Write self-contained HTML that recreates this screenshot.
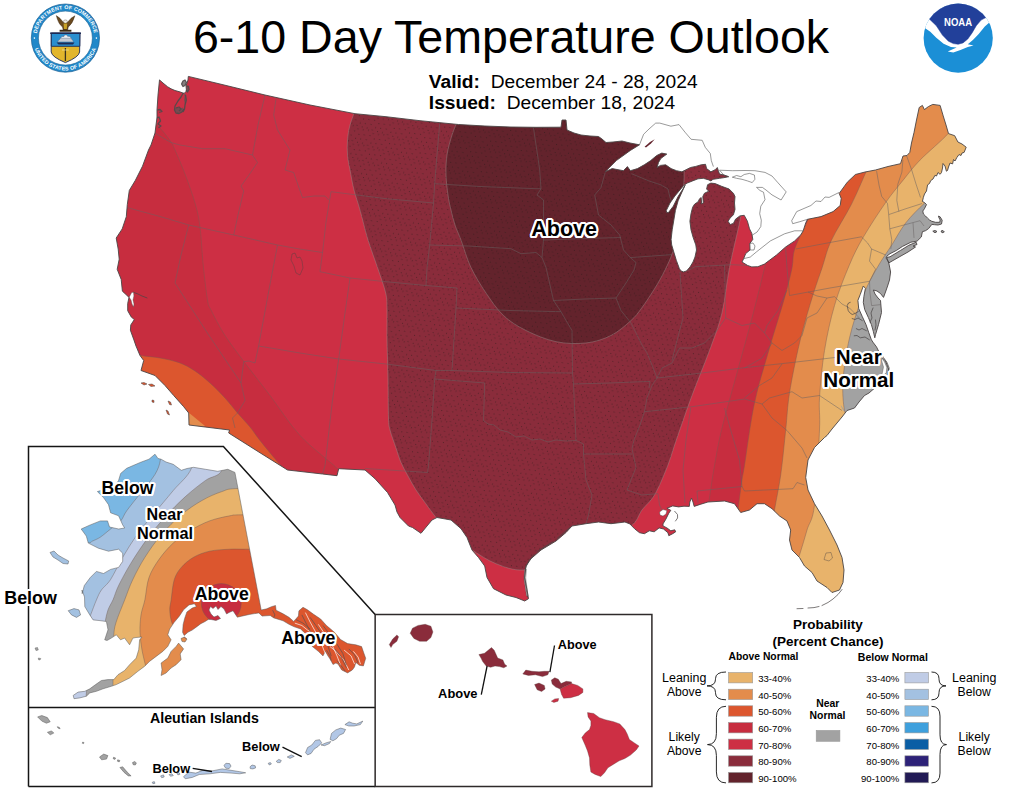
<!DOCTYPE html>
<html><head><meta charset="utf-8"><title>6-10 Day Temperature Outlook</title>
<style>
html,body{margin:0;padding:0;background:#fff;}
body{width:1024px;height:791px;position:relative;overflow:hidden;font-family:"Liberation Sans",sans-serif;color:#000;}
.t{position:absolute;white-space:nowrap;line-height:1;}
.b{font-weight:bold;}
.halo{font-weight:bold;text-shadow:-1.5px -1.5px 0 #fff,1.5px -1.5px 0 #fff,-1.5px 1.5px 0 #fff,1.5px 1.5px 0 #fff,0 -2px 0 #fff,0 2px 0 #fff,-2px 0 0 #fff,2px 0 0 #fff,-1px -2px 0 #fff,1px -2px 0 #fff,-1px 2px 0 #fff,1px 2px 0 #fff,-2px -1px 0 #fff,2px -1px 0 #fff,-2px 1px 0 #fff,2px 1px 0 #fff;}
</style></head>
<body>
<svg width="1024" height="791" viewBox="0 0 1024 791" style="position:absolute;left:0;top:0">
<defs>
<clipPath id="cus"><path d="M159.5,79.9 L163.0,83.0 L167.5,86.7 L171.0,88.8 L175.0,90.5 L180.3,92.0 L184.0,93.5 L186.5,91.0 L186.0,86.0 L188.0,80.0 L188.3,76.4 L220.0,84.0 L265.0,95.0 L310.0,105.0 L355.0,113.7 L386.0,116.7 L420.0,120.7 L458.5,124.5 L485.0,126.0 L511.0,127.0 L536.0,127.3 L561.0,127.2 L562.0,120.0 L566.0,120.0 L567.0,130.0 L574.0,133.0 L581.0,135.0 L590.0,136.0 L598.5,136.5 L602.0,139.0 L606.0,142.5 L613.0,142.0 L622.0,141.0 L630.0,143.0 L639.5,144.8 L630.4,150.4 L616.3,160.6 L605.2,171.7 L612.2,168.6 L623.4,170.7 L627.4,166.6 L630.4,170.7 L637.5,168.6 L644.6,164.6 L650.7,160.6 L656.7,155.5 L661.8,153.1 L666.8,154.1 L660.8,158.5 L658.5,162.5 L657.1,167.5 L660.4,165.4 L665.7,164.8 L671.1,168.6 L676.5,170.7 L681.9,171.8 L685.1,170.2 L690.5,167.5 L695.8,166.4 L701.2,164.8 L705.5,164.3 L706.6,168.6 L710.9,171.8 L715.2,169.7 L717.3,167.5 L718.4,170.7 L719.5,174.0 L723.8,175.0 L728.6,176.7 L723.8,177.7 L719.5,178.3 L715.0,179.0 L713.0,179.3 L710.9,180.9 L708.7,179.9 L703.3,178.3 L698.0,178.8 L692.6,180.9 L687.2,183.1 L684.0,185.2 L679.9,190.0 L674.9,196.0 L670.0,203.0 L666.3,210.5 L666.8,212.6 L668.4,212.6 L673.3,206.2 L678.1,196.5 L682.9,189.0 L685.1,185.2 L681.9,192.2 L678.1,200.8 L675.4,210.5 L673.8,220.2 L672.2,229.8 L671.1,239.5 L671.7,244.9 L673.2,250.0 L676.3,260.3 L679.3,268.4 L680.8,270.8 L683.4,271.9 L686.5,271.0 L690.0,267.0 L693.0,262.0 L695.0,257.0 L696.5,250.0 L695.8,244.9 L693.1,237.3 L691.0,229.8 L689.9,221.2 L691.0,213.7 L692.6,207.3 L694.7,204.0 L698.0,201.9 L699.6,198.7 L701.2,197.6 L701.7,204.0 L703.3,203.0 L702.8,196.5 L704.4,193.3 L708.7,191.2 L706.6,189.0 L707.6,184.7 L710.9,183.1 L715.2,183.6 L721.6,186.3 L729.1,189.0 L733.4,193.3 L735.0,196.5 L734.5,203.0 L735.0,209.4 L733.4,214.8 L730.2,218.0 L728.0,221.2 L730.2,224.5 L733.4,223.4 L735.6,219.1 L739.9,215.9 L744.2,215.3 L747.4,221.2 L749.5,228.8 L751.8,233.4 L752.8,239.4 L749.8,243.5 L750.0,250.0 L745.7,253.6 L743.7,258.6 L742.0,262.0 L747.7,265.5 L751.8,266.9 L757.8,266.7 L764.4,264.1 L776.5,255.0 L785.6,247.0 L794.7,240.9 L800.8,234.8 L803.2,230.8 L805.8,222.7 L807.5,219.3 L821.0,216.6 L833.1,211.6 L840.2,205.5 L841.2,198.4 L839.2,193.4 L847.3,182.2 L855.4,174.5 L865.0,172.0 L875.5,170.0 L888.0,166.5 L900.5,163.7 L903.0,156.0 L907.0,155.5 L909.8,152.4 L911.5,143.0 L914.0,132.6 L916.5,120.0 L919.2,107.5 L922.4,105.4 L924.4,109.6 L928.5,106.5 L932.8,104.4 L940.1,105.4 L943.2,115.9 L946.0,125.0 L948.5,133.6 L954.7,135.7 L957.9,142.0 L962.0,144.0 L966.2,147.2 L964.1,152.4 L962.0,153.0 L961.0,155.5 L959.0,154.5 L956.8,157.6 L955.0,161.0 L953.5,159.5 L952.6,163.9 L950.0,163.0 L948.5,167.0 L947.5,170.5 L946.4,171.2 L945.0,166.0 L943.0,163.5 L942.5,168.0 L941.5,172.5 L940.1,174.3 L938.0,172.5 L936.5,176.0 L934.9,175.4 L933.0,179.0 L930.7,180.6 L929.5,183.5 L927.6,184.8 L927.0,188.0 L926.5,191.0 L924.5,194.0 L923.4,197.3 L922.4,201.5 L924.5,202.5 L926.5,204.6 L924.4,208.8 L922.8,211.0 L923.4,214.0 L925.5,216.0 L927.6,218.2 L929.5,220.0 L931.8,221.3 L935.5,222.3 L939.7,222.3 L940.2,220.0 L939.1,218.0 L938.4,216.1 L940.1,216.8 L942.2,220.3 L941.5,224.0 L938.0,225.0 L934.5,224.7 L931.8,224.4 L928.6,228.6 L925.5,230.7 L922.4,231.7 L921.3,237.0 L917.1,241.1 L910.9,242.2 L902.5,246.4 L896.3,250.5 L890.0,253.7 L887.0,256.0 L886.0,258.0 L888.6,262.0 L890.6,272.0 L889.5,280.0 L887.6,286.0 L885.5,292.0 L883.5,297.4 L880.5,293.5 L877.0,291.0 L873.4,290.0 L875.0,294.0 L878.0,298.0 L880.5,300.4 L881.5,312.5 L878.5,324.6 L875.5,334.7 L874.8,337.8 L873.4,331.7 L871.4,324.6 L868.4,317.6 L864.7,309.5 L863.3,302.4 L863.9,296.4 L865.4,288.3 L863.3,286.0 L860.3,294.3 L857.9,300.4 L858.7,308.5 L862.3,316.6 L866.0,324.6 L868.8,332.7 L871.4,339.8 L873.4,342.8 L876.5,346.9 L881.5,357.0 L885.6,361.0 L888.6,369.0 L887.6,375.2 L880.5,381.2 L875.5,387.3 L869.0,393.0 L864.5,395.5 L859.0,402.0 L854.5,408.0 L847.0,410.5 L842.0,417.0 L837.0,423.0 L832.0,429.0 L827.0,435.5 L824.5,437.5 L814.5,447.5 L808.0,460.0 L805.7,477.5 L808.0,490.0 L814.5,503.7 L822.0,516.0 L829.5,530.0 L837.0,545.0 L842.0,557.5 L844.0,570.0 L843.0,582.5 L839.5,590.0 L832.0,592.5 L827.0,587.5 L817.0,581.0 L812.0,572.5 L804.5,566.0 L799.5,557.5 L792.0,550.0 L789.5,540.0 L790.7,530.0 L787.0,521.0 L779.5,516.0 L772.0,508.7 L764.5,503.7 L757.0,503.7 L749.5,510.0 L740.7,512.5 L734.5,503.7 L724.5,501.0 L707.9,502.0 L700.1,504.4 L694.2,506.4 L693.0,502.0 L691.5,498.1 L689.8,502.0 L689.3,506.4 L684.0,506.2 L678.6,506.9 L672.7,505.9 L666.9,508.3 L670.8,510.3 L668.8,513.2 L665.9,519.1 L663.0,523.9 L663.0,525.9 L666.9,527.9 L670.8,530.8 L674.7,529.8 L675.7,531.8 L672.7,533.7 L668.8,535.7 L667.9,532.7 L663.5,529.0 L659.1,527.9 L654.2,531.8 L649.3,530.8 L644.4,533.7 L639.5,532.7 L634.6,528.8 L629.8,523.9 L624.9,522.0 L621.0,522.5 L611.0,523.7 L598.5,522.0 L586.0,523.7 L572.0,526.0 L566.0,532.5 L556.0,541.0 L541.0,550.0 L531.0,558.7 L526.0,566.0 L524.7,577.5 L527.0,590.0 L528.5,598.7 L524.7,601.0 L516.0,597.5 L506.0,595.0 L493.5,588.7 L487.0,577.5 L484.7,566.0 L478.5,557.5 L472.0,550.0 L467.0,537.5 L461.0,528.7 L451.0,520.0 L437.0,517.5 L432.0,520.0 L427.0,526.0 L421.0,533.3 L412.5,527.5 L408.5,526.0 L400.0,517.5 L397.0,512.0 L395.0,505.0 L387.5,492.5 L375.0,478.7 L365.0,470.0 L338.7,468.7 L337.0,475.7 L322.5,474.0 L287.5,470.0 L258.0,451.5 L228.7,433.0 L229.5,430.0 L189.0,425.0 L188.7,413.0 L183.7,406.7 L173.7,395.5 L165.0,385.5 L155.0,375.5 L141.0,370.5 L143.7,360.5 L140.0,355.5 L136.0,346.0 L133.9,339.9 L130.4,330.2 L130.8,324.9 L134.3,319.6 L131.2,316.9 L127.7,310.7 L127.7,303.6 L129.0,297.4 L126.0,294.5 L122.4,291.2 L121.2,279.4 L117.2,269.3 L119.2,259.2 L118.2,249.1 L116.2,238.0 L122.2,228.9 L126.3,216.7 L127.3,204.6 L129.3,190.4 L135.4,180.3 L142.5,166.2 L148.5,150.0 L151.0,145.0 L155.0,133.0 L156.0,125.0 L157.0,117.5 L157.0,110.0 L158.0,95.0Z M886.7,257.5 L890.0,256.8 L900.4,250.5 L908.8,245.3 L916.1,242.2 L917.0,244.5 L913.0,246.0 L915.5,247.0 L908.0,252.0 L900.0,256.5 L893.0,260.5 L888.7,263.0Z M932.8,231.2 L935.0,230.5 L937.0,231.5 L935.0,232.8Z M941.0,231.0 L943.0,230.5 L944.3,232.0 L942.0,232.8Z"/></clipPath>
<clipPath id="cak"><path d="M155.0,454.2 L158.0,458.5 L161.1,459.2 L166.0,462.0 L173.2,464.3 L181.3,470.3 L187.0,468.5 L193.5,467.3 L205.6,469.3 L217.7,471.3 L227.8,469.3 L234.9,472.4 L261.2,610.0 L266.7,608.8 L271.4,606.7 L275.5,605.5 L276.1,610.2 L283.1,613.8 L289.0,617.3 L293.7,621.4 L298.4,616.1 L298.9,610.8 L303.0,607.3 L307.1,609.6 L313.6,614.3 L320.6,619.0 L326.5,625.5 L334.7,632.5 L340.5,639.5 L347.6,643.6 L355.8,644.8 L361.6,646.6 L364.0,653.6 L365.7,658.3 L363.4,665.9 L359.3,665.3 L355.8,662.4 L354.5,667.0 L352.3,670.0 L347.6,672.9 L341.7,670.0 L338.0,664.0 L335.9,663.0 L333.0,664.5 L330.0,658.9 L328.0,656.0 L325.3,651.3 L323.0,655.9 L318.3,651.3 L312.4,646.6 L309.0,640.0 L305.4,633.7 L300.7,629.0 L293.7,626.6 L289.0,624.3 L283.1,620.8 L273.8,617.9 L270.2,615.5 L262.0,616.1 L258.8,612.9 L249.2,614.5 L241.6,616.2 L237.3,617.2 L233.0,610.8 L229.0,612.5 L226.6,614.0 L224.0,609.0 L221.0,606.5 L218.0,609.5 L216.0,606.0 L213.0,608.5 L210.5,606.5 L209.0,610.0 L211.0,614.0 L214.0,617.0 L218.0,615.5 L220.5,618.5 L216.0,620.5 L211.0,619.5 L208.3,619.4 L205.1,621.5 L200.8,623.7 L196.5,626.9 L192.2,630.1 L187.9,632.3 L184.2,635.5 L182.6,632.3 L183.1,624.7 L184.7,618.3 L186.9,611.9 L192.2,608.1 L196.5,606.5 L194.4,603.8 L189.0,604.9 L183.6,609.7 L179.3,616.2 L174.0,622.6 L169.7,629.0 L167.8,634.8 L171.1,639.8 L167.8,646.4 L162.8,651.4 L156.2,656.4 L149.5,661.4 L144.5,666.4 L137.9,671.3 L129.6,678.0 L123.0,681.3 L116.3,684.6 L111.3,686.3 L103.0,688.8 L96.4,691.3 L89.8,692.9 L86.4,696.2 L79.8,697.9 L74.0,698.7 L73.2,695.4 L78.1,692.1 L84.8,691.3 L89.8,688.8 L95.6,684.6 L101.4,680.5 L108.0,679.6 L113.8,679.6 L118.0,674.7 L124.6,670.5 L129.6,664.7 L136.2,658.1 L138.7,649.8 L139.6,639.8 L142.0,637.0 L136.0,637.5 L132.9,638.1 L129.6,644.8 L124.6,638.1 L120.5,639.8 L116.3,634.8 L111.3,638.1 L107.0,640.5 L104.7,639.8 L108.0,629.8 L106.4,621.5 L99.0,620.5 L93.1,619.9 L89.8,614.9 L84.8,606.6 L84.5,597.0 L82.0,590.0 L82.2,593.7 L84.3,585.6 L90.3,577.5 L96.4,571.4 L103.5,573.5 L110.6,569.4 L118.6,567.4 L122.7,561.3 L122.7,553.2 L118.6,549.2 L108.5,551.2 L98.4,548.2 L88.3,543.1 L86.3,536.1 L81.2,529.0 L90.3,524.9 L100.4,520.9 L107.5,520.9 L109.5,527.0 L118.6,529.0 L124.7,528.0 L122.7,524.9 L118.6,515.8 L110.6,512.8 L108.5,504.7 L103.5,497.6 L97.4,491.6 L106.0,489.0 L114.6,486.5 L118.6,480.4 L120.7,473.4 L126.7,468.3 L140.9,462.2 L149.0,459.2Z M50.0,552.5 L54.0,551.0 L58.0,555.0 L63.0,558.0 L68.7,561.0 L68.0,564.0 L63.0,563.5 L58.0,560.0 L53.0,557.0Z M68.2,610.7 L74.0,608.6 L79.0,609.9 L80.6,614.9 L76.5,617.4 L71.5,614.9Z M178.6,643.1 L183.6,648.9 L180.2,653.9 L181.1,659.7 L176.1,664.7 L171.1,668.0 L166.1,673.0 L161.1,675.5 L162.0,669.7 L161.1,663.0 L167.8,658.1 L171.1,651.4 L176.1,646.4Z M181.0,638.5 L184.5,637.0 L187.0,639.0 L185.0,642.0 L182.0,641.5Z"/></clipPath>
<pattern id="dots" width="16" height="16" patternUnits="userSpaceOnUse" patternTransform="rotate(17)"><g fill="#241816" fill-opacity="0.7"><rect x="0.8" y="1.5" width="0.85" height="0.85"/><rect x="6.2" y="0.4" width="0.85" height="0.85"/><rect x="11.6" y="2.3" width="0.85" height="0.85"/><rect x="3.4" y="6.1" width="0.85" height="0.85"/><rect x="8.9" y="5.2" width="0.85" height="0.85"/><rect x="14.1" y="7.0" width="0.85" height="0.85"/><rect x="1.2" y="10.9" width="0.85" height="0.85"/><rect x="6.7" y="10.2" width="0.85" height="0.85"/><rect x="12.0" y="11.8" width="0.85" height="0.85"/><rect x="4.1" y="14.6" width="0.85" height="0.85"/><rect x="9.6" y="14.9" width="0.85" height="0.85"/><rect x="15.0" y="15.2" width="0.85" height="0.85"/></g></pattern>
</defs>
<g clip-path="url(#cus)" style="isolation:isolate" opacity="0.999">
<rect x="100" y="60" width="900" height="560" fill="#cd2f44"/>
<path d="M150.0,120.0 C151.7,121.3 156.5,124.3 160.0,128.0 C163.5,131.7 168.5,138.3 171.0,142.0 C173.5,145.7 172.7,144.7 175.0,150.0 C177.3,155.3 181.7,165.2 185.0,174.0 C188.3,182.8 192.5,194.2 195.0,203.0 C197.5,211.8 198.7,217.0 200.0,227.0 C201.3,237.0 201.8,250.8 203.0,263.0 C204.2,275.2 206.2,292.2 207.5,300.0 C208.8,307.8 208.1,304.1 211.0,310.0 C213.9,315.9 219.3,326.7 225.0,335.5 C230.7,344.3 237.5,353.0 245.0,363.0 C252.5,373.0 260.8,383.4 270.0,395.5 C279.2,407.6 288.8,423.3 300.0,435.5 C311.2,447.7 330.0,461.3 337.5,468.7 C345.0,476.1 343.8,478.1 345.0,480.0 L345,640 L80,640 L80,100 Z" fill="#c72d3f"/>
<path d="M130.0,352.0 C131.8,352.6 136.0,354.5 141.0,355.5 C146.0,356.5 153.5,356.8 160.0,358.0 C166.5,359.2 174.2,360.8 180.0,363.0 C185.8,365.2 190.0,367.7 195.0,371.0 C200.0,374.3 205.0,378.5 210.0,383.0 C215.0,387.5 220.4,393.0 225.0,398.0 C229.6,403.0 233.3,408.2 237.5,413.0 C241.7,417.8 246.2,422.4 250.0,427.0 C253.8,431.6 255.4,434.7 260.0,440.5 C264.6,446.3 272.5,455.9 277.5,461.7 C282.5,467.4 287.9,472.8 290.0,475.0 L290,640 L80,640 L80,352 Z" fill="#dc562e"/>
<path d="M188.0,412.0 L205.0,426.0 L188.0,426.0Z" fill="#e38c4c"/>
<path d="M360.0,95.0 C359.3,97.2 357.7,103.0 356.0,108.0 C354.3,113.0 351.4,119.7 350.0,125.0 C348.6,130.3 347.9,135.0 347.5,140.0 C347.1,145.0 347.1,150.0 347.5,155.0 C347.9,160.0 348.9,164.2 350.0,170.0 C351.1,175.8 352.3,183.3 354.0,190.0 C355.7,196.7 357.7,201.7 360.0,210.0 C362.3,218.3 365.1,230.4 368.0,240.0 C370.9,249.6 374.6,258.7 377.5,267.5 C380.4,276.3 384.1,285.9 385.7,293.0 C387.3,300.1 386.8,302.2 387.0,310.0 C387.2,317.8 386.8,328.3 387.0,340.0 C387.2,351.7 387.8,367.0 388.0,380.0 C388.2,393.0 388.2,409.7 388.5,418.0 C388.8,426.3 388.8,425.0 390.0,430.0 C391.2,435.0 394.2,442.6 396.0,448.0 C397.8,453.4 399.0,457.8 401.0,462.5 C403.0,467.2 405.5,471.4 408.0,476.0 C410.5,480.6 413.0,485.3 416.0,490.0 C419.0,494.7 422.7,499.4 426.0,504.0 C429.3,508.6 432.0,512.3 436.0,517.5 C440.0,522.7 444.0,529.6 450.0,535.0 C456.0,540.4 464.3,545.2 472.0,550.0 C479.7,554.8 487.4,560.4 496.0,563.7 C504.6,567.0 512.8,570.6 523.5,570.0 C534.2,569.4 547.2,565.0 560.0,560.0 C572.8,555.0 588.2,545.7 600.0,540.0 C611.8,534.3 624.0,531.0 631.0,526.0 C638.0,521.0 638.1,515.2 642.0,510.0 C645.9,504.8 650.3,502.1 654.5,495.0 C658.7,487.9 663.2,477.0 667.0,467.5 C670.8,458.0 672.8,450.0 677.0,438.0 C681.2,426.0 686.6,410.1 692.0,395.5 C697.4,380.9 704.5,364.2 709.5,350.5 C714.5,336.8 718.7,326.8 722.0,313.0 C725.3,299.2 726.3,283.8 729.5,267.5 C732.7,251.2 738.4,229.6 741.0,215.0 C743.6,200.4 744.2,190.8 745.0,180.0 C745.8,169.2 745.8,162.0 746.0,150.0 C746.2,138.0 746.0,117.2 746.0,108.0 C746.0,98.8 746.0,97.2 746.0,95.0Z" fill="#8a2c3b"/>
<path d="M463.0,100.0 C462.2,103.0 460.3,112.2 458.5,118.0 C456.7,123.8 453.9,128.8 452.0,135.0 C450.1,141.2 448.0,148.3 447.0,155.0 C446.0,161.7 445.8,168.3 446.0,175.0 C446.2,181.7 447.2,189.2 448.0,195.0 C448.8,200.8 449.8,205.0 451.0,210.0 C452.2,215.0 453.3,220.0 455.0,225.0 C456.7,230.0 458.3,232.9 461.0,240.0 C463.7,247.1 466.8,258.7 471.0,267.5 C475.2,276.3 480.6,285.0 486.0,293.0 C491.4,301.0 496.8,309.2 503.5,315.5 C510.2,321.8 517.2,326.1 526.0,330.5 C534.8,334.9 546.0,339.6 556.0,341.7 C566.0,343.8 576.8,344.0 586.0,343.0 C595.2,342.0 603.5,339.2 611.0,335.5 C618.5,331.8 625.9,325.1 631.0,320.5 C636.1,315.9 637.7,313.4 641.7,308.0 C645.7,302.6 651.1,294.3 655.0,288.0 C658.9,281.7 662.0,276.1 665.0,270.0 C668.0,263.9 670.7,258.3 672.9,251.6 C675.1,244.9 676.5,237.8 678.0,230.0 C679.5,222.2 681.0,213.3 682.0,205.0 C683.0,196.7 683.7,187.5 684.0,180.0 C684.3,172.5 684.2,166.7 684.0,160.0 C683.8,153.3 683.7,147.0 683.0,140.0 C682.3,133.0 680.8,124.7 680.0,118.0 C679.2,111.3 678.3,103.0 678.0,100.0Z" fill="#63232c"/>
<path d="M789.9,31.0 C786.6,64.2 773.7,193.5 770.0,230.0 C766.3,266.5 768.9,243.7 768.0,250.0 C767.1,256.3 767.2,256.7 764.5,268.0 C761.8,279.3 756.6,300.5 752.0,318.0 C747.4,335.5 742.0,354.7 737.0,373.0 C732.0,391.3 725.8,412.6 722.0,428.0 C718.2,443.4 716.6,453.9 714.5,465.5 C712.4,477.1 710.9,488.4 709.5,497.5 C708.1,506.6 711.7,483.3 706.0,520.0 C700.3,556.7 680.4,684.7 675.3,717.6 L1100,717.6 L1100,31.0 Z" fill="#c72d3f"/>
<path d="M865.7,12.4 C856.8,44.5 821.6,170.4 812.0,205.0 C802.4,239.6 810.8,212.4 807.9,219.7 C805.0,227.0 797.4,240.9 794.7,249.0 C792.1,257.1 793.7,259.8 792.0,268.0 C790.3,276.2 788.2,284.7 784.5,298.0 C780.8,311.3 774.5,330.5 769.5,348.0 C764.5,365.5 758.7,383.4 754.5,403.0 C750.3,422.6 746.6,452.7 744.5,465.5 C742.4,478.3 743.1,472.6 742.0,480.0 C740.9,487.4 739.0,501.7 738.0,510.0 C737.0,518.3 739.7,493.5 736.0,530.0 C732.3,566.5 719.4,695.8 716.1,729.0 L1100,729.0 L1100,12.4 Z" fill="#dc562e"/>
<path d="M948.4,-24.4 C935.5,6.3 884.8,127.1 871.0,160.0 C857.2,192.9 868.8,165.7 865.5,173.1 C862.2,180.5 857.0,193.2 851.3,204.5 C845.6,215.8 836.0,230.3 831.1,240.9 C826.2,251.5 825.2,258.5 822.0,268.0 C818.8,277.5 815.8,285.5 812.0,298.0 C808.2,310.5 803.2,327.2 799.5,343.0 C795.8,358.8 791.8,378.5 789.5,393.0 C787.2,407.5 787.2,416.3 785.7,430.0 C784.2,443.7 782.6,461.7 780.7,475.0 C778.8,488.3 776.3,499.2 774.5,510.0 C772.7,520.8 775.7,502.0 770.0,540.0 C764.3,578.0 745.3,704.8 740.3,737.8 L1100,737.8 L1100,-24.4 Z" fill="#e38c4c"/>
<path d="M1046.0,-58.1 C1030.8,-28.4 971.3,88.0 955.0,120.0 C938.7,152.0 953.8,127.0 948.0,133.7 C942.2,140.4 927.5,152.4 920.1,160.0 C912.8,167.6 909.6,172.1 903.9,179.2 C898.2,186.3 892.4,192.9 885.7,202.5 C879.0,212.1 869.6,226.4 863.5,236.8 C857.4,247.2 854.1,253.8 849.3,265.2 C844.5,276.6 838.6,291.3 834.5,305.5 C830.4,319.7 827.0,335.1 824.5,350.5 C822.0,365.9 820.3,384.8 819.5,398.0 C818.7,411.2 820.3,412.2 819.5,430.0 C818.7,447.8 816.6,488.3 814.5,505.0 C812.4,521.7 809.5,521.7 807.0,530.0 C804.5,538.3 802.3,546.7 799.5,555.0 C796.7,563.3 803.4,544.7 790.0,580.0 C776.6,615.3 730.8,735.8 719.0,767.0 L1100,767.0 L1100,-58.1 Z" fill="#e8b36b"/>
<path d="M1092.5,60.6 C1067.0,82.1 968.1,166.2 940.0,190.0 C911.9,213.8 929.8,198.1 924.1,203.5 C918.4,208.9 911.3,215.8 905.9,222.7 C900.5,229.6 896.6,237.3 891.8,244.9 C887.0,252.5 882.0,259.1 877.0,268.0 C872.0,276.9 866.6,286.3 862.0,298.0 C857.4,309.7 852.7,324.2 849.5,338.0 C846.3,351.8 843.8,368.4 843.0,380.5 C842.2,392.6 843.3,403.9 844.5,410.5 C845.7,417.1 832.4,389.6 850.0,420.0 C867.6,450.4 933.5,564.2 950.2,593.1 L1100,593.1 L1100,60.6 Z" fill="#a2a2a2"/>
<path d="M360.0,95.0 C359.3,97.2 357.7,103.0 356.0,108.0 C354.3,113.0 351.4,119.7 350.0,125.0 C348.6,130.3 347.9,135.0 347.5,140.0 C347.1,145.0 347.1,150.0 347.5,155.0 C347.9,160.0 348.9,164.2 350.0,170.0 C351.1,175.8 352.3,183.3 354.0,190.0 C355.7,196.7 357.7,201.7 360.0,210.0 C362.3,218.3 365.1,230.4 368.0,240.0 C370.9,249.6 374.6,258.7 377.5,267.5 C380.4,276.3 384.1,285.9 385.7,293.0 C387.3,300.1 386.8,302.2 387.0,310.0 C387.2,317.8 386.8,328.3 387.0,340.0 C387.2,351.7 387.8,367.0 388.0,380.0 C388.2,393.0 388.2,409.7 388.5,418.0 C388.8,426.3 388.8,425.0 390.0,430.0 C391.2,435.0 394.2,442.6 396.0,448.0 C397.8,453.4 399.0,457.8 401.0,462.5 C403.0,467.2 405.5,471.4 408.0,476.0 C410.5,480.6 413.0,485.3 416.0,490.0 C419.0,494.7 422.7,499.4 426.0,504.0 C429.3,508.6 432.0,512.3 436.0,517.5 C440.0,522.7 444.0,529.6 450.0,535.0 C456.0,540.4 464.3,545.2 472.0,550.0 C479.7,554.8 487.4,560.4 496.0,563.7 C504.6,567.0 512.8,570.6 523.5,570.0 C534.2,569.4 547.2,565.0 560.0,560.0 C572.8,555.0 588.2,545.7 600.0,540.0 C611.8,534.3 624.0,531.0 631.0,526.0 C638.0,521.0 638.1,515.2 642.0,510.0 C645.9,504.8 650.3,502.1 654.5,495.0 C658.7,487.9 663.2,477.0 667.0,467.5 C670.8,458.0 672.8,450.0 677.0,438.0 C681.2,426.0 686.6,410.1 692.0,395.5 C697.4,380.9 704.5,364.2 709.5,350.5 C714.5,336.8 718.7,326.8 722.0,313.0 C725.3,299.2 726.3,283.8 729.5,267.5 C732.7,251.2 738.4,229.6 741.0,215.0 C743.6,200.4 744.2,190.8 745.0,180.0 C745.8,169.2 745.8,162.0 746.0,150.0 C746.2,138.0 746.0,117.2 746.0,108.0 C746.0,98.8 746.0,97.2 746.0,95.0Z" fill="url(#dots)"/>
<path d="M360.0,95.0 C359.3,97.2 357.7,103.0 356.0,108.0 C354.3,113.0 351.4,119.7 350.0,125.0 C348.6,130.3 347.9,135.0 347.5,140.0 C347.1,145.0 347.1,150.0 347.5,155.0 C347.9,160.0 348.9,164.2 350.0,170.0 C351.1,175.8 352.3,183.3 354.0,190.0 C355.7,196.7 357.7,201.7 360.0,210.0 C362.3,218.3 365.1,230.4 368.0,240.0 C370.9,249.6 374.6,258.7 377.5,267.5 C380.4,276.3 384.1,285.9 385.7,293.0 C387.3,300.1 386.8,302.2 387.0,310.0 C387.2,317.8 386.8,328.3 387.0,340.0 C387.2,351.7 387.8,367.0 388.0,380.0 C388.2,393.0 388.2,409.7 388.5,418.0 C388.8,426.3 388.8,425.0 390.0,430.0 C391.2,435.0 394.2,442.6 396.0,448.0 C397.8,453.4 399.0,457.8 401.0,462.5 C403.0,467.2 405.5,471.4 408.0,476.0 C410.5,480.6 413.0,485.3 416.0,490.0 C419.0,494.7 422.7,499.4 426.0,504.0 C429.3,508.6 432.0,512.3 436.0,517.5 C440.0,522.7 444.0,529.6 450.0,535.0 C456.0,540.4 464.3,545.2 472.0,550.0 C479.7,554.8 487.4,560.4 496.0,563.7 C504.6,567.0 512.8,570.6 523.5,570.0 C534.2,569.4 547.2,565.0 560.0,560.0 C572.8,555.0 588.2,545.7 600.0,540.0 C611.8,534.3 624.0,531.0 631.0,526.0 C638.0,521.0 638.1,515.2 642.0,510.0 C645.9,504.8 650.3,502.1 654.5,495.0 C658.7,487.9 663.2,477.0 667.0,467.5 C670.8,458.0 672.8,450.0 677.0,438.0 C681.2,426.0 686.6,410.1 692.0,395.5 C697.4,380.9 704.5,364.2 709.5,350.5 C714.5,336.8 718.7,326.8 722.0,313.0 C725.3,299.2 726.3,283.8 729.5,267.5 C732.7,251.2 738.4,229.6 741.0,215.0 C743.6,200.4 744.2,190.8 745.0,180.0 C745.8,169.2 745.8,162.0 746.0,150.0 C746.2,138.0 746.0,117.2 746.0,108.0 C746.0,98.8 746.0,97.2 746.0,95.0" fill="none" stroke="#9a8f8c" stroke-opacity="0.55" stroke-width="0.8"/>
<path d="M463.0,100.0 C462.2,103.0 460.3,112.2 458.5,118.0 C456.7,123.8 453.9,128.8 452.0,135.0 C450.1,141.2 448.0,148.3 447.0,155.0 C446.0,161.7 445.8,168.3 446.0,175.0 C446.2,181.7 447.2,189.2 448.0,195.0 C448.8,200.8 449.8,205.0 451.0,210.0 C452.2,215.0 453.3,220.0 455.0,225.0 C456.7,230.0 458.3,232.9 461.0,240.0 C463.7,247.1 466.8,258.7 471.0,267.5 C475.2,276.3 480.6,285.0 486.0,293.0 C491.4,301.0 496.8,309.2 503.5,315.5 C510.2,321.8 517.2,326.1 526.0,330.5 C534.8,334.9 546.0,339.6 556.0,341.7 C566.0,343.8 576.8,344.0 586.0,343.0 C595.2,342.0 603.5,339.2 611.0,335.5 C618.5,331.8 625.9,325.1 631.0,320.5 C636.1,315.9 637.7,313.4 641.7,308.0 C645.7,302.6 651.1,294.3 655.0,288.0 C658.9,281.7 662.0,276.1 665.0,270.0 C668.0,263.9 670.7,258.3 672.9,251.6 C675.1,244.9 676.5,237.8 678.0,230.0 C679.5,222.2 681.0,213.3 682.0,205.0 C683.0,196.7 683.7,187.5 684.0,180.0 C684.3,172.5 684.2,166.7 684.0,160.0 C683.8,153.3 683.7,147.0 683.0,140.0 C682.3,133.0 680.8,124.7 680.0,118.0 C679.2,111.3 678.3,103.0 678.0,100.0" fill="none" stroke="#9a8f8c" stroke-opacity="0.55" stroke-width="0.8"/>
<path d="M770.0,230.0 C769.7,233.3 768.9,243.7 768.0,250.0 C767.1,256.3 767.2,256.7 764.5,268.0 C761.8,279.3 756.6,300.5 752.0,318.0 C747.4,335.5 742.0,354.7 737.0,373.0 C732.0,391.3 725.8,412.6 722.0,428.0 C718.2,443.4 716.6,453.9 714.5,465.5 C712.4,477.1 710.9,488.4 709.5,497.5 C708.1,506.6 706.6,516.2 706.0,520.0" fill="none" stroke="#7a5a50" stroke-opacity="0.55" stroke-width="0.8"/>
<path d="M812.0,205.0 C811.3,207.4 810.8,212.4 807.9,219.7 C805.0,227.0 797.4,240.9 794.7,249.0 C792.1,257.1 793.7,259.8 792.0,268.0 C790.3,276.2 788.2,284.7 784.5,298.0 C780.8,311.3 774.5,330.5 769.5,348.0 C764.5,365.5 758.7,383.4 754.5,403.0 C750.3,422.6 746.6,452.7 744.5,465.5 C742.4,478.3 743.1,472.6 742.0,480.0 C740.9,487.4 739.0,501.7 738.0,510.0 C737.0,518.3 736.3,526.7 736.0,530.0" fill="none" stroke="#7a5a50" stroke-opacity="0.55" stroke-width="0.8"/>
<path d="M871.0,160.0 C870.1,162.2 868.8,165.7 865.5,173.1 C862.2,180.5 857.0,193.2 851.3,204.5 C845.6,215.8 836.0,230.3 831.1,240.9 C826.2,251.5 825.2,258.5 822.0,268.0 C818.8,277.5 815.8,285.5 812.0,298.0 C808.2,310.5 803.2,327.2 799.5,343.0 C795.8,358.8 791.8,378.5 789.5,393.0 C787.2,407.5 787.2,416.3 785.7,430.0 C784.2,443.7 782.6,461.7 780.7,475.0 C778.8,488.3 776.3,499.2 774.5,510.0 C772.7,520.8 770.8,535.0 770.0,540.0" fill="none" stroke="#7a5a50" stroke-opacity="0.55" stroke-width="0.8"/>
<path d="M955.0,120.0 C953.8,122.3 953.8,127.0 948.0,133.7 C942.2,140.4 927.5,152.4 920.1,160.0 C912.8,167.6 909.6,172.1 903.9,179.2 C898.2,186.3 892.4,192.9 885.7,202.5 C879.0,212.1 869.6,226.4 863.5,236.8 C857.4,247.2 854.1,253.8 849.3,265.2 C844.5,276.6 838.6,291.3 834.5,305.5 C830.4,319.7 827.0,335.1 824.5,350.5 C822.0,365.9 820.3,384.8 819.5,398.0 C818.7,411.2 820.3,412.2 819.5,430.0 C818.7,447.8 816.6,488.3 814.5,505.0 C812.4,521.7 809.5,521.7 807.0,530.0 C804.5,538.3 802.3,546.7 799.5,555.0 C796.7,563.3 791.6,575.8 790.0,580.0" fill="none" stroke="#7a5a50" stroke-opacity="0.55" stroke-width="0.8"/>
<path d="M940.0,190.0 C937.4,192.2 929.8,198.1 924.1,203.5 C918.4,208.9 911.3,215.8 905.9,222.7 C900.5,229.6 896.6,237.3 891.8,244.9 C887.0,252.5 882.0,259.1 877.0,268.0 C872.0,276.9 866.6,286.3 862.0,298.0 C857.4,309.7 852.7,324.2 849.5,338.0 C846.3,351.8 843.8,368.4 843.0,380.5 C842.2,392.6 843.3,403.9 844.5,410.5 C845.7,417.1 849.1,418.4 850.0,420.0" fill="none" stroke="#7a5a50" stroke-opacity="0.55" stroke-width="0.8"/>
<path d="M150.0,120.0 C151.7,121.3 156.5,124.3 160.0,128.0 C163.5,131.7 168.5,138.3 171.0,142.0 C173.5,145.7 172.7,144.7 175.0,150.0 C177.3,155.3 181.7,165.2 185.0,174.0 C188.3,182.8 192.5,194.2 195.0,203.0 C197.5,211.8 198.7,217.0 200.0,227.0 C201.3,237.0 201.8,250.8 203.0,263.0 C204.2,275.2 206.2,292.2 207.5,300.0 C208.8,307.8 208.1,304.1 211.0,310.0 C213.9,315.9 219.3,326.7 225.0,335.5 C230.7,344.3 237.5,353.0 245.0,363.0 C252.5,373.0 260.8,383.4 270.0,395.5 C279.2,407.6 288.8,423.3 300.0,435.5 C311.2,447.7 330.0,461.3 337.5,468.7 C345.0,476.1 343.8,478.1 345.0,480.0" fill="none" stroke="#7a5a50" stroke-opacity="0.55" stroke-width="0.8"/>
<path d="M130.0,352.0 C131.8,352.6 136.0,354.5 141.0,355.5 C146.0,356.5 153.5,356.8 160.0,358.0 C166.5,359.2 174.2,360.8 180.0,363.0 C185.8,365.2 190.0,367.7 195.0,371.0 C200.0,374.3 205.0,378.5 210.0,383.0 C215.0,387.5 220.4,393.0 225.0,398.0 C229.6,403.0 233.3,408.2 237.5,413.0 C241.7,417.8 246.2,422.4 250.0,427.0 C253.8,431.6 255.4,434.7 260.0,440.5 C264.6,446.3 272.5,455.9 277.5,461.7 C282.5,467.4 287.9,472.8 290.0,475.0" fill="none" stroke="#7a5a50" stroke-opacity="0.55" stroke-width="0.8"/>
<path d="M155.0,133.0 L163.0,138.0 L171.0,142.5 L180.0,145.0 L202.5,148.7 L225.0,148.7 L252.5,155.0" fill="none" stroke="#686262" stroke-opacity="0.72" stroke-width="0.7" stroke-linejoin="round"/>
<path d="M265.0,95.0 L258.0,125.0 L252.5,155.0" fill="none" stroke="#686262" stroke-opacity="0.72" stroke-width="0.7" stroke-linejoin="round"/>
<path d="M276.0,98.7 L273.7,115.0 L277.5,130.0 L290.0,150.0 L285.0,170.0 L293.7,172.5 L298.0,185.0 L302.5,197.5 L314.0,196.0 L325.0,196.0 L328.7,200.0" fill="none" stroke="#686262" stroke-opacity="0.72" stroke-width="0.7" stroke-linejoin="round"/>
<path d="M331.0,191.7 L386.0,198.7 L433.5,203.0" fill="none" stroke="#686262" stroke-opacity="0.72" stroke-width="0.7" stroke-linejoin="round"/>
<path d="M331.0,191.7 L326.0,222.0 L322.5,252.5 L320.0,271.7" fill="none" stroke="#686262" stroke-opacity="0.72" stroke-width="0.7" stroke-linejoin="round"/>
<path d="M252.5,155.0 L257.5,162.5 L249.0,175.0 L241.0,186.0 L243.7,191.0 L238.0,215.0 L233.7,235.0" fill="none" stroke="#686262" stroke-opacity="0.72" stroke-width="0.7" stroke-linejoin="round"/>
<path d="M127.3,207.6 L160.0,216.5 L188.7,225.0 L233.7,235.0 L277.5,245.0 L300.0,249.1 L322.5,252.5" fill="none" stroke="#686262" stroke-opacity="0.72" stroke-width="0.7" stroke-linejoin="round"/>
<path d="M188.7,225.0 L181.0,255.0 L175.0,283.0 L208.0,334.0 L241.0,383.0 L245.0,400.5 L237.5,413.0 L232.5,418.0 L235.0,428.0" fill="none" stroke="#686262" stroke-opacity="0.72" stroke-width="0.7" stroke-linejoin="round"/>
<path d="M277.5,245.0 L268.0,295.0 L258.7,345.5 L255.0,363.0 L249.0,361.0 L243.7,361.7 L241.0,383.0" fill="none" stroke="#686262" stroke-opacity="0.72" stroke-width="0.7" stroke-linejoin="round"/>
<path d="M320.0,271.7 L350.0,278.0 L344.0,320.0 L338.7,359.0" fill="none" stroke="#686262" stroke-opacity="0.72" stroke-width="0.7" stroke-linejoin="round"/>
<path d="M258.7,346.0 L300.0,353.0 L338.7,359.0 L386.0,364.0 L436.0,370.5" fill="none" stroke="#686262" stroke-opacity="0.72" stroke-width="0.7" stroke-linejoin="round"/>
<path d="M338.7,359.0 L332.5,400.0 L325.0,465.5 L322.5,474.0" fill="none" stroke="#686262" stroke-opacity="0.72" stroke-width="0.7" stroke-linejoin="round"/>
<path d="M350.0,278.0 L386.0,281.7 L426.0,285.5 L457.0,288.0" fill="none" stroke="#686262" stroke-opacity="0.72" stroke-width="0.7" stroke-linejoin="round"/>
<path d="M433.5,203.0 L429.7,245.0 L427.0,268.0 L426.0,285.5" fill="none" stroke="#686262" stroke-opacity="0.72" stroke-width="0.7" stroke-linejoin="round"/>
<path d="M439.7,123.7 L437.0,155.0 L434.7,183.7 L433.5,203.0" fill="none" stroke="#686262" stroke-opacity="0.72" stroke-width="0.7" stroke-linejoin="round"/>
<path d="M434.7,183.7 L480.0,186.5 L536.0,188.7 L541.0,188.7" fill="none" stroke="#686262" stroke-opacity="0.72" stroke-width="0.7" stroke-linejoin="round"/>
<path d="M533.5,128.0 L536.0,145.0 L538.0,158.0 L539.7,170.0 L541.0,188.7" fill="none" stroke="#686262" stroke-opacity="0.72" stroke-width="0.7" stroke-linejoin="round"/>
<path d="M541.0,188.7 L537.0,195.0 L543.5,200.0 L543.5,240.0 L542.0,257.5 L546.0,267.5" fill="none" stroke="#686262" stroke-opacity="0.72" stroke-width="0.7" stroke-linejoin="round"/>
<path d="M543.5,240.0 L590.0,238.4 L621.0,237.5" fill="none" stroke="#686262" stroke-opacity="0.72" stroke-width="0.7" stroke-linejoin="round"/>
<path d="M429.7,245.0 L468.5,246.0 L511.0,248.7 L521.0,253.7 L536.0,252.5 L542.0,257.5" fill="none" stroke="#686262" stroke-opacity="0.72" stroke-width="0.7" stroke-linejoin="round"/>
<path d="M546.0,267.5 L550.0,285.0 L553.5,300.5 L561.0,311.7 L566.0,320.5 L572.0,330.5 L572.5,373.0" fill="none" stroke="#686262" stroke-opacity="0.72" stroke-width="0.7" stroke-linejoin="round"/>
<path d="M457.0,288.0 L456.0,308.0 L452.0,370.5" fill="none" stroke="#686262" stroke-opacity="0.72" stroke-width="0.7" stroke-linejoin="round"/>
<path d="M456.0,308.0 L510.0,310.5 L561.0,311.7" fill="none" stroke="#686262" stroke-opacity="0.72" stroke-width="0.7" stroke-linejoin="round"/>
<path d="M436.0,370.5 L452.0,370.5 L510.0,372.5 L572.5,373.0" fill="none" stroke="#686262" stroke-opacity="0.72" stroke-width="0.7" stroke-linejoin="round"/>
<path d="M436.0,370.5 L434.7,379.0 L432.0,420.0 L428.5,465.5 L427.5,472.5" fill="none" stroke="#686262" stroke-opacity="0.72" stroke-width="0.7" stroke-linejoin="round"/>
<path d="M365.0,468.5 L427.5,472.5" fill="none" stroke="#686262" stroke-opacity="0.72" stroke-width="0.7" stroke-linejoin="round"/>
<path d="M434.7,379.0 L484.7,383.0 L483.5,420.5 L488.0,424.0 L494.0,425.0 L500.0,430.0 L508.0,432.0 L516.0,437.0 L524.0,436.0 L532.0,440.0 L540.0,439.0 L548.0,442.0 L556.0,440.0 L566.0,441.0 L576.0,440.5 L583.5,444.0" fill="none" stroke="#686262" stroke-opacity="0.72" stroke-width="0.7" stroke-linejoin="round"/>
<path d="M572.5,373.0 L573.5,384.0 L576.0,440.5" fill="none" stroke="#686262" stroke-opacity="0.72" stroke-width="0.7" stroke-linejoin="round"/>
<path d="M573.5,384.0 L610.0,383.0 L641.7,381.7 L650.0,381.5 L649.0,388.0" fill="none" stroke="#686262" stroke-opacity="0.72" stroke-width="0.7" stroke-linejoin="round"/>
<path d="M583.5,444.0 L583.5,454.0 L632.0,454.0" fill="none" stroke="#686262" stroke-opacity="0.72" stroke-width="0.7" stroke-linejoin="round"/>
<path d="M583.5,454.0 L586.0,480.0 L592.0,495.0 L588.5,515.0 L586.0,523.7" fill="none" stroke="#686262" stroke-opacity="0.72" stroke-width="0.7" stroke-linejoin="round"/>
<path d="M553.5,300.5 L585.0,299.0 L616.0,298.0" fill="none" stroke="#686262" stroke-opacity="0.72" stroke-width="0.7" stroke-linejoin="round"/>
<path d="M605.2,172.5 L601.0,187.5 L594.7,195.0 L598.5,215.0 L611.0,225.0 L619.7,235.0 L623.5,250.0 L630.4,257.6 L636.0,262.5 L634.0,270.0 L626.0,283.0 L616.0,298.0 L621.0,310.5 L631.0,323.0 L636.0,333.0 L642.0,345.0 L647.0,353.0 L652.0,365.0 L657.0,378.0 L652.0,385.5 L647.0,398.0 L644.5,411.7 L640.0,425.0 L634.0,440.0 L632.0,448.7 L636.0,467.5 L627.0,490.0 L641.7,495.0 L658.0,493.7 L659.5,505.0 L663.0,512.5" fill="none" stroke="#686262" stroke-opacity="0.72" stroke-width="0.7" stroke-linejoin="round"/>
<path d="M630.4,257.6 L672.0,254.6" fill="none" stroke="#686262" stroke-opacity="0.72" stroke-width="0.7" stroke-linejoin="round"/>
<path d="M631.5,173.7 L648.6,180.8 L660.8,184.8 L667.9,188.9 L669.9,197.0 L671.9,203.0" fill="none" stroke="#686262" stroke-opacity="0.72" stroke-width="0.7" stroke-linejoin="round"/>
<path d="M680.0,272.0 L683.0,318.0 L677.0,340.5 L672.0,360.5" fill="none" stroke="#686262" stroke-opacity="0.72" stroke-width="0.7" stroke-linejoin="round"/>
<path d="M688.0,270.5 L695.2,266.7 L731.6,264.7 L749.0,265.5" fill="none" stroke="#686262" stroke-opacity="0.72" stroke-width="0.7" stroke-linejoin="round"/>
<path d="M724.5,265.0 L725.7,318.0" fill="none" stroke="#686262" stroke-opacity="0.72" stroke-width="0.7" stroke-linejoin="round"/>
<path d="M657.0,378.0 L662.0,368.0 L672.0,363.0 L679.5,348.0 L692.0,348.0 L704.5,343.0 L717.0,330.5 L725.7,318.0 L742.0,325.5 L754.5,323.0 L764.5,333.0 L772.0,343.0" fill="none" stroke="#686262" stroke-opacity="0.72" stroke-width="0.7" stroke-linejoin="round"/>
<path d="M764.5,333.0 L767.0,325.5 L778.0,310.5 L787.0,290.0" fill="none" stroke="#686262" stroke-opacity="0.72" stroke-width="0.7" stroke-linejoin="round"/>
<path d="M785.6,248.0 L787.0,268.0 L789.5,295.5" fill="none" stroke="#686262" stroke-opacity="0.72" stroke-width="0.7" stroke-linejoin="round"/>
<path d="M789.5,295.5 L830.0,288.0 L869.5,281.3" fill="none" stroke="#686262" stroke-opacity="0.72" stroke-width="0.7" stroke-linejoin="round"/>
<path d="M772.0,343.0 L782.0,350.5 L794.5,343.0 L802.0,335.5 L807.0,318.0 L817.0,313.0 L827.0,298.0 L834.5,296.7" fill="none" stroke="#686262" stroke-opacity="0.72" stroke-width="0.7" stroke-linejoin="round"/>
<path d="M808.0,292.0 L817.0,296.0 L827.0,298.0" fill="none" stroke="#686262" stroke-opacity="0.72" stroke-width="0.7" stroke-linejoin="round"/>
<path d="M834.5,296.7 L842.0,304.0 L849.5,308.0 L859.5,318.0" fill="none" stroke="#686262" stroke-opacity="0.72" stroke-width="0.7" stroke-linejoin="round"/>
<path d="M657.0,378.0 L702.0,373.0 L742.0,368.0 L792.0,362.5 L842.0,356.7 L882.0,353.0" fill="none" stroke="#686262" stroke-opacity="0.72" stroke-width="0.7" stroke-linejoin="round"/>
<path d="M772.0,343.0 L762.0,358.0 L744.5,368.0" fill="none" stroke="#686262" stroke-opacity="0.72" stroke-width="0.7" stroke-linejoin="round"/>
<path d="M782.0,364.0 L772.0,378.0 L759.5,385.5 L744.5,398.0" fill="none" stroke="#686262" stroke-opacity="0.72" stroke-width="0.7" stroke-linejoin="round"/>
<path d="M644.5,411.7 L692.0,406.7 L744.5,399.0 L762.0,404.0" fill="none" stroke="#686262" stroke-opacity="0.72" stroke-width="0.7" stroke-linejoin="round"/>
<path d="M762.0,404.0 L769.5,398.0 L792.0,391.7 L802.0,398.0 L819.5,395.5 L842.0,410.5" fill="none" stroke="#686262" stroke-opacity="0.72" stroke-width="0.7" stroke-linejoin="round"/>
<path d="M762.0,404.0 L772.0,418.0 L787.0,430.5 L802.0,448.0 L807.0,458.0" fill="none" stroke="#686262" stroke-opacity="0.72" stroke-width="0.7" stroke-linejoin="round"/>
<path d="M724.5,408.0 L730.7,430.0 L739.5,460.0 L742.0,487.0" fill="none" stroke="#686262" stroke-opacity="0.72" stroke-width="0.7" stroke-linejoin="round"/>
<path d="M690.7,408.0 L686.0,440.0 L683.0,470.0 L685.0,503.0" fill="none" stroke="#686262" stroke-opacity="0.72" stroke-width="0.7" stroke-linejoin="round"/>
<path d="M698.0,502.5 L697.0,491.0 L742.0,486.5 L744.5,491.0 L793.0,488.7 L797.0,482.5 L804.5,485.0" fill="none" stroke="#686262" stroke-opacity="0.72" stroke-width="0.7" stroke-linejoin="round"/>
<path d="M795.7,249.0 L830.0,242.5 L861.4,236.8 L867.5,242.9 L871.6,249.0 L869.5,261.1 L875.6,269.2 L871.6,277.3 L869.5,281.3" fill="none" stroke="#686262" stroke-opacity="0.72" stroke-width="0.7" stroke-linejoin="round"/>
<path d="M871.6,249.0 L885.7,255.0" fill="none" stroke="#686262" stroke-opacity="0.72" stroke-width="0.7" stroke-linejoin="round"/>
<path d="M869.5,281.3 L870.0,293.0 L871.6,305.6 L880.7,304.6" fill="none" stroke="#686262" stroke-opacity="0.72" stroke-width="0.7" stroke-linejoin="round"/>
<path d="M876.6,171.1 L879.0,185.0 L881.7,196.4 L887.5,203.5 L888.7,214.6 L889.8,228.8 L891.8,239.9 L890.8,249.0" fill="none" stroke="#686262" stroke-opacity="0.72" stroke-width="0.7" stroke-linejoin="round"/>
<path d="M902.9,160.0 L901.9,172.1 L897.8,184.3 L896.8,200.4 L898.9,211.6" fill="none" stroke="#686262" stroke-opacity="0.72" stroke-width="0.7" stroke-linejoin="round"/>
<path d="M906.7,156.0 L911.7,170.0 L916.0,184.0 L920.5,197.5" fill="none" stroke="#686262" stroke-opacity="0.72" stroke-width="0.7" stroke-linejoin="round"/>
<path d="M888.7,214.6 L905.0,209.0 L922.1,203.5" fill="none" stroke="#686262" stroke-opacity="0.72" stroke-width="0.7" stroke-linejoin="round"/>
<path d="M889.8,228.8 L905.0,224.7 L920.1,220.7 L924.0,226.0" fill="none" stroke="#686262" stroke-opacity="0.72" stroke-width="0.7" stroke-linejoin="round"/>
<path d="M913.0,222.7 L914.0,237.9" fill="none" stroke="#686262" stroke-opacity="0.72" stroke-width="0.7" stroke-linejoin="round"/>
<path d="M292.0,254.0 L295.0,253.0 L297.0,258.0 L300.0,257.0 L302.0,261.0 L303.0,268.0 L300.0,275.0 L296.0,273.0 L294.0,266.0 L291.0,260.0Z M826.0,553.0 L831.0,552.5 L832.5,558.0 L829.0,561.0 L824.0,559.5Z" fill="none" stroke="#4a4444" stroke-opacity="0.6" stroke-width="0.7"/>
</g>
<path d="M639.5,144.8 L643.6,134.3 L649.0,129.0 L655.7,123.1 L659.8,123.1 L670.9,126.2 L679.0,124.6 L685.0,132.2 L691.1,139.3 L702.2,140.3 L705.3,147.4 L710.3,153.5 L711.3,160.6 L713.4,166.6" fill="none" stroke="#555" stroke-opacity="0.85" stroke-width="0.7" stroke-linejoin="round"/>
<path d="M728.6,176.7 L723.8,175.0 L719.5,170.2 L732.3,170.7 L745.0,170.5 L754.9,170.7 L765.0,172.4 L772.0,176.0 L778.0,182.8 L786.2,191.9 L781.1,200.0 L772.0,194.9 L766.0,190.0 L762.4,187.4 L756.5,187.4 L760.0,190.5 L763.5,192.2 L765.0,199.7 L760.8,206.2 L759.7,213.7 L761.3,220.2 L760.8,226.6 L757.1,232.0 L752.2,235.2" fill="none" stroke="#555" stroke-opacity="0.85" stroke-width="0.7" stroke-linejoin="round"/>
<path d="M732.3,177.2 L736.6,175.5 L740.9,176.7 L744.2,174.5 L749.5,173.4 L754.4,175.0 L754.9,179.3 L752.2,182.6 L747.4,180.9 L742.0,179.3 L736.6,178.3 L732.3,177.2" fill="none" stroke="#555" stroke-opacity="0.85" stroke-width="0.7" stroke-linejoin="round"/>
<path d="M749.8,243.5 L753.0,243.0 L755.0,246.0 L754.0,250.0 L750.0,250.0" fill="none" stroke="#555" stroke-opacity="0.85" stroke-width="0.7" stroke-linejoin="round"/>
<path d="M743.7,258.6 L750.2,257.1 L756.3,252.0 L770.4,240.9 L784.6,233.8 L794.7,230.8 L803.2,230.8" fill="none" stroke="#555" stroke-opacity="0.85" stroke-width="0.7" stroke-linejoin="round"/>
<path d="M807.5,219.3 L799.8,221.7 L792.7,223.7 L791.7,220.7 L796.7,211.6 L810.9,205.5 L816.0,201.0 L821.0,201.5 L825.0,197.0 L829.1,197.4 L839.2,192.4" fill="none" stroke="#555" stroke-opacity="0.85" stroke-width="0.7" stroke-linejoin="round"/>
<path d="M644.6,146.8 L650.0,142.0 L654.7,139.3 L651.0,143.5 L646.0,147.5Z" fill="#63232c"/>
<path d="M129.2,297.2 L131.5,292.8 L133.5,292.0 L133.9,296.0 L133.0,300.0 L134.0,304.0 L133.5,307.0 L132.0,304.0 L131.0,300.0Z" fill="#fff" stroke="#4a4545" stroke-opacity="0.8" stroke-width="0.5"/>
<path d="M881.0,357.0 L884.5,362.0 L886.8,367.5 L886.3,372.5 L883.0,376.0 L881.0,378.0 L882.5,372.0 L883.5,367.0 L882.0,362.0Z" fill="#fff" stroke="#4a4545" stroke-opacity="0.8" stroke-width="0.5"/>
<path d="M659.6,512.0 L663.0,509.5 L666.9,510.5 L666.0,514.0 L663.0,516.1 L660.0,515.0Z" fill="#fff" stroke="#4a4545" stroke-opacity="0.8" stroke-width="0.5"/>
<path d="M526.6,596.0 L525.3,588.0 L523.9,578.0 L524.9,569.0 L526.5,569.5 L525.7,578.0 L527.0,588.0 L528.0,596.0Z" fill="#fff" stroke="#4a4545" stroke-opacity="0.8" stroke-width="0.5"/>
<path d="M159.5,79.9 L163.0,83.0 L167.5,86.7 L171.0,88.8 L175.0,90.5 L180.3,92.0 L184.0,93.5 L186.5,91.0 L186.0,86.0 L188.0,80.0 L188.3,76.4 L220.0,84.0 L265.0,95.0 L310.0,105.0 L355.0,113.7 L386.0,116.7 L420.0,120.7 L458.5,124.5 L485.0,126.0 L511.0,127.0 L536.0,127.3 L561.0,127.2 L562.0,120.0 L566.0,120.0 L567.0,130.0 L574.0,133.0 L581.0,135.0 L590.0,136.0 L598.5,136.5 L602.0,139.0 L606.0,142.5 L613.0,142.0 L622.0,141.0 L630.0,143.0 L639.5,144.8 L630.4,150.4 L616.3,160.6 L605.2,171.7 L612.2,168.6 L623.4,170.7 L627.4,166.6 L630.4,170.7 L637.5,168.6 L644.6,164.6 L650.7,160.6 L656.7,155.5 L661.8,153.1 L666.8,154.1 L660.8,158.5 L658.5,162.5 L657.1,167.5 L660.4,165.4 L665.7,164.8 L671.1,168.6 L676.5,170.7 L681.9,171.8 L685.1,170.2 L690.5,167.5 L695.8,166.4 L701.2,164.8 L705.5,164.3 L706.6,168.6 L710.9,171.8 L715.2,169.7 L717.3,167.5 L718.4,170.7 L719.5,174.0 L723.8,175.0 L728.6,176.7 L723.8,177.7 L719.5,178.3 L715.0,179.0 L713.0,179.3 L710.9,180.9 L708.7,179.9 L703.3,178.3 L698.0,178.8 L692.6,180.9 L687.2,183.1 L684.0,185.2 L679.9,190.0 L674.9,196.0 L670.0,203.0 L666.3,210.5 L666.8,212.6 L668.4,212.6 L673.3,206.2 L678.1,196.5 L682.9,189.0 L685.1,185.2 L681.9,192.2 L678.1,200.8 L675.4,210.5 L673.8,220.2 L672.2,229.8 L671.1,239.5 L671.7,244.9 L673.2,250.0 L676.3,260.3 L679.3,268.4 L680.8,270.8 L683.4,271.9 L686.5,271.0 L690.0,267.0 L693.0,262.0 L695.0,257.0 L696.5,250.0 L695.8,244.9 L693.1,237.3 L691.0,229.8 L689.9,221.2 L691.0,213.7 L692.6,207.3 L694.7,204.0 L698.0,201.9 L699.6,198.7 L701.2,197.6 L701.7,204.0 L703.3,203.0 L702.8,196.5 L704.4,193.3 L708.7,191.2 L706.6,189.0 L707.6,184.7 L710.9,183.1 L715.2,183.6 L721.6,186.3 L729.1,189.0 L733.4,193.3 L735.0,196.5 L734.5,203.0 L735.0,209.4 L733.4,214.8 L730.2,218.0 L728.0,221.2 L730.2,224.5 L733.4,223.4 L735.6,219.1 L739.9,215.9 L744.2,215.3 L747.4,221.2 L749.5,228.8 L751.8,233.4 L752.8,239.4 L749.8,243.5 L750.0,250.0 L745.7,253.6 L743.7,258.6 L742.0,262.0 L747.7,265.5 L751.8,266.9 L757.8,266.7 L764.4,264.1 L776.5,255.0 L785.6,247.0 L794.7,240.9 L800.8,234.8 L803.2,230.8 L805.8,222.7 L807.5,219.3 L821.0,216.6 L833.1,211.6 L840.2,205.5 L841.2,198.4 L839.2,193.4 L847.3,182.2 L855.4,174.5 L865.0,172.0 L875.5,170.0 L888.0,166.5 L900.5,163.7 L903.0,156.0 L907.0,155.5 L909.8,152.4 L911.5,143.0 L914.0,132.6 L916.5,120.0 L919.2,107.5 L922.4,105.4 L924.4,109.6 L928.5,106.5 L932.8,104.4 L940.1,105.4 L943.2,115.9 L946.0,125.0 L948.5,133.6 L954.7,135.7 L957.9,142.0 L962.0,144.0 L966.2,147.2 L964.1,152.4 L962.0,153.0 L961.0,155.5 L959.0,154.5 L956.8,157.6 L955.0,161.0 L953.5,159.5 L952.6,163.9 L950.0,163.0 L948.5,167.0 L947.5,170.5 L946.4,171.2 L945.0,166.0 L943.0,163.5 L942.5,168.0 L941.5,172.5 L940.1,174.3 L938.0,172.5 L936.5,176.0 L934.9,175.4 L933.0,179.0 L930.7,180.6 L929.5,183.5 L927.6,184.8 L927.0,188.0 L926.5,191.0 L924.5,194.0 L923.4,197.3 L922.4,201.5 L924.5,202.5 L926.5,204.6 L924.4,208.8 L922.8,211.0 L923.4,214.0 L925.5,216.0 L927.6,218.2 L929.5,220.0 L931.8,221.3 L935.5,222.3 L939.7,222.3 L940.2,220.0 L939.1,218.0 L938.4,216.1 L940.1,216.8 L942.2,220.3 L941.5,224.0 L938.0,225.0 L934.5,224.7 L931.8,224.4 L928.6,228.6 L925.5,230.7 L922.4,231.7 L921.3,237.0 L917.1,241.1 L910.9,242.2 L902.5,246.4 L896.3,250.5 L890.0,253.7 L887.0,256.0 L886.0,258.0 L888.6,262.0 L890.6,272.0 L889.5,280.0 L887.6,286.0 L885.5,292.0 L883.5,297.4 L880.5,293.5 L877.0,291.0 L873.4,290.0 L875.0,294.0 L878.0,298.0 L880.5,300.4 L881.5,312.5 L878.5,324.6 L875.5,334.7 L874.8,337.8 L873.4,331.7 L871.4,324.6 L868.4,317.6 L864.7,309.5 L863.3,302.4 L863.9,296.4 L865.4,288.3 L863.3,286.0 L860.3,294.3 L857.9,300.4 L858.7,308.5 L862.3,316.6 L866.0,324.6 L868.8,332.7 L871.4,339.8 L873.4,342.8 L876.5,346.9 L881.5,357.0 L885.6,361.0 L888.6,369.0 L887.6,375.2 L880.5,381.2 L875.5,387.3 L869.0,393.0 L864.5,395.5 L859.0,402.0 L854.5,408.0 L847.0,410.5 L842.0,417.0 L837.0,423.0 L832.0,429.0 L827.0,435.5 L824.5,437.5 L814.5,447.5 L808.0,460.0 L805.7,477.5 L808.0,490.0 L814.5,503.7 L822.0,516.0 L829.5,530.0 L837.0,545.0 L842.0,557.5 L844.0,570.0 L843.0,582.5 L839.5,590.0 L832.0,592.5 L827.0,587.5 L817.0,581.0 L812.0,572.5 L804.5,566.0 L799.5,557.5 L792.0,550.0 L789.5,540.0 L790.7,530.0 L787.0,521.0 L779.5,516.0 L772.0,508.7 L764.5,503.7 L757.0,503.7 L749.5,510.0 L740.7,512.5 L734.5,503.7 L724.5,501.0 L707.9,502.0 L700.1,504.4 L694.2,506.4 L693.0,502.0 L691.5,498.1 L689.8,502.0 L689.3,506.4 L684.0,506.2 L678.6,506.9 L672.7,505.9 L666.9,508.3 L670.8,510.3 L668.8,513.2 L665.9,519.1 L663.0,523.9 L663.0,525.9 L666.9,527.9 L670.8,530.8 L674.7,529.8 L675.7,531.8 L672.7,533.7 L668.8,535.7 L667.9,532.7 L663.5,529.0 L659.1,527.9 L654.2,531.8 L649.3,530.8 L644.4,533.7 L639.5,532.7 L634.6,528.8 L629.8,523.9 L624.9,522.0 L621.0,522.5 L611.0,523.7 L598.5,522.0 L586.0,523.7 L572.0,526.0 L566.0,532.5 L556.0,541.0 L541.0,550.0 L531.0,558.7 L526.0,566.0 L524.7,577.5 L527.0,590.0 L528.5,598.7 L524.7,601.0 L516.0,597.5 L506.0,595.0 L493.5,588.7 L487.0,577.5 L484.7,566.0 L478.5,557.5 L472.0,550.0 L467.0,537.5 L461.0,528.7 L451.0,520.0 L437.0,517.5 L432.0,520.0 L427.0,526.0 L421.0,533.3 L412.5,527.5 L408.5,526.0 L400.0,517.5 L397.0,512.0 L395.0,505.0 L387.5,492.5 L375.0,478.7 L365.0,470.0 L338.7,468.7 L337.0,475.7 L322.5,474.0 L287.5,470.0 L258.0,451.5 L228.7,433.0 L229.5,430.0 L189.0,425.0 L188.7,413.0 L183.7,406.7 L173.7,395.5 L165.0,385.5 L155.0,375.5 L141.0,370.5 L143.7,360.5 L140.0,355.5 L136.0,346.0 L133.9,339.9 L130.4,330.2 L130.8,324.9 L134.3,319.6 L131.2,316.9 L127.7,310.7 L127.7,303.6 L129.0,297.4 L126.0,294.5 L122.4,291.2 L121.2,279.4 L117.2,269.3 L119.2,259.2 L118.2,249.1 L116.2,238.0 L122.2,228.9 L126.3,216.7 L127.3,204.6 L129.3,190.4 L135.4,180.3 L142.5,166.2 L148.5,150.0 L151.0,145.0 L155.0,133.0 L156.0,125.0 L157.0,117.5 L157.0,110.0 L158.0,95.0Z M886.7,257.5 L890.0,256.8 L900.4,250.5 L908.8,245.3 L916.1,242.2 L917.0,244.5 L913.0,246.0 L915.5,247.0 L908.0,252.0 L900.0,256.5 L893.0,260.5 L888.7,263.0Z M932.8,231.2 L935.0,230.5 L937.0,231.5 L935.0,232.8Z M941.0,231.0 L943.0,230.5 L944.3,232.0 L942.0,232.8Z" fill="none" stroke="#4a4545" stroke-opacity="0.9" stroke-width="1.0" stroke-linejoin="round"/>
<path d="M133.9,292.5 L138.0,294.0 L142.0,296.0 L147.0,297.9" fill="none" stroke="#4a4545" stroke-opacity="0.9" stroke-width="0.8" stroke-linecap="round"/>
<path d="M858.3,311.5 L855.0,313.5 L852.2,314.5 L849.5,312.5 L848.2,310.5 L847.2,305.5 L848.5,303.0 L850.2,302.4" fill="none" stroke="#4a4545" stroke-opacity="0.9" stroke-width="0.8" stroke-linecap="round"/>
<path d="M862.3,320.6 L858.0,318.0 L855.0,319.5 L852.2,318.6" fill="none" stroke="#4a4545" stroke-opacity="0.9" stroke-width="0.8" stroke-linecap="round"/>
<path d="M866.4,330.7 L862.0,328.5 L859.0,330.0 L856.3,328.7" fill="none" stroke="#4a4545" stroke-opacity="0.9" stroke-width="0.8" stroke-linecap="round"/>
<path d="M869.4,339.8 L865.0,337.0 L860.3,337.8 L857.0,335.5 L854.2,335.8" fill="none" stroke="#4a4545" stroke-opacity="0.9" stroke-width="0.8" stroke-linecap="round"/>
<path d="M870.0,322.0 L872.0,318.0 L871.0,313.0 L873.0,308.0" fill="none" stroke="#4a4545" stroke-opacity="0.9" stroke-width="0.8" stroke-linecap="round"/>
<path d="M875.0,330.0 L876.0,325.0 L875.5,320.0" fill="none" stroke="#4a4545" stroke-opacity="0.9" stroke-width="0.8" stroke-linecap="round"/>
<path d="M880.0,352.0 L883.5,357.5 L887.0,362.5 L889.2,368.0 L888.5,373.0 L886.0,376.0" fill="none" stroke="#4a4545" stroke-opacity="0.9" stroke-width="0.8" stroke-linecap="round"/>
<path d="M884.0,378.5 L879.0,383.5 L874.0,388.5" fill="none" stroke="#4a4545" stroke-opacity="0.9" stroke-width="0.8" stroke-linecap="round"/>
<path d="M797.0,608.7 L803.0,608.5" fill="none" stroke="#4a4545" stroke-opacity="0.9" stroke-width="0.8" stroke-linecap="round"/>
<path d="M808.0,608.0 L814.0,607.6 L819.0,606.5" fill="none" stroke="#4a4545" stroke-opacity="0.9" stroke-width="0.8" stroke-linecap="round"/>
<path d="M822.0,605.5 L828.0,602.5 L833.0,599.0 L838.0,594.5 L842.0,589.5" fill="none" stroke="#4a4545" stroke-opacity="0.9" stroke-width="0.8" stroke-linecap="round"/>
<path d="M527.5,597.0 L526.0,588.0 L524.5,578.0 L525.5,568.0 L529.0,560.5 L534.0,554.5" fill="none" stroke="#4a4545" stroke-opacity="0.9" stroke-width="0.8" stroke-linecap="round"/>
<path d="M537.0,551.5 L545.0,546.5 L553.0,541.5" fill="none" stroke="#4a4545" stroke-opacity="0.9" stroke-width="0.8" stroke-linecap="round"/>
<path d="M557.0,538.5 L564.0,532.5 L570.0,527.5" fill="none" stroke="#4a4545" stroke-opacity="0.9" stroke-width="0.8" stroke-linecap="round"/>
<path d="M674.7,511.3 L677.5,514.5 L677.6,518.0 L675.5,521.0" fill="none" stroke="#4a4545" stroke-opacity="0.9" stroke-width="0.8" stroke-linecap="round"/>
<path d="M141.0,383.0 L144.0,382.5 L147.0,384.0 L144.0,385.0Z" fill="#dc562e" stroke="#4a4545" stroke-opacity="0.85" stroke-width="0.6"/>
<path d="M148.5,384.5 L152.0,384.0 L155.0,386.0 L151.0,386.5Z" fill="#dc562e" stroke="#4a4545" stroke-opacity="0.85" stroke-width="0.6"/>
<path d="M152.0,400.0 L154.0,400.5 L154.0,402.5 L152.0,402.0Z" fill="#dc562e" stroke="#4a4545" stroke-opacity="0.85" stroke-width="0.6"/>
<path d="M168.0,401.0 L170.5,402.0 L171.5,405.0 L169.5,404.5Z" fill="#dc562e" stroke="#4a4545" stroke-opacity="0.85" stroke-width="0.6"/>
<path d="M166.0,410.0 L168.0,411.0 L169.5,415.0 L167.5,414.0Z" fill="#dc562e" stroke="#4a4545" stroke-opacity="0.85" stroke-width="0.6"/>
<g clip-path="url(#cak)" style="isolation:isolate" opacity="0.999">
<rect x="20" y="440" width="380" height="280" fill="#7ab7e3"/>
<path d="M160.5,440.0 C160.5,443.2 161.4,453.5 160.5,459.2 C159.6,464.9 158.3,468.8 155.0,474.4 C151.7,480.0 145.6,486.5 140.9,492.6 C136.2,498.7 130.1,506.1 126.7,510.8 C123.3,515.5 123.4,517.9 120.7,520.9 C118.0,523.9 114.0,526.3 110.6,529.0 C107.2,531.7 103.4,535.1 100.4,537.1 C97.4,539.1 94.6,540.1 92.4,541.1 C90.2,542.1 92.7,542.3 87.3,543.1 C81.9,543.9 71.2,545.2 60.0,546.0 C48.8,546.8 26.7,547.7 20.0,548.0 L20,720 L400,720 L400,440Z" fill="#a3c1e1" stroke="#6b5a55" stroke-opacity="0.6" stroke-width="0.7"/>
<path d="M193.0,440.0 C192.7,444.7 194.7,459.9 191.4,468.3 C188.1,476.7 179.6,482.9 173.2,490.6 C166.8,498.4 159.1,507.4 153.0,514.8 C146.9,522.2 141.9,527.9 136.8,535.0 C131.8,542.1 127.1,549.9 122.7,557.3 C118.3,564.7 114.1,574.0 110.6,579.5 C107.0,585.0 103.8,586.6 101.4,590.0 C99.0,593.4 98.2,595.9 96.4,600.0 C94.6,604.1 92.3,610.7 90.6,614.9 C88.9,619.1 91.1,620.5 86.0,625.0 C80.9,629.5 71.0,636.2 60.0,642.0 C49.0,647.8 26.7,657.0 20.0,660.0 L20,720 L400,720 L400,440Z" fill="#c0cce6" stroke="#6b5a55" stroke-opacity="0.6" stroke-width="0.7"/>
<path d="M225.0,440.0 C224.5,445.1 225.0,463.6 221.8,470.3 C218.6,477.0 211.7,476.0 205.6,480.4 C199.5,484.8 192.1,490.5 185.4,496.6 C178.7,502.7 171.6,509.7 165.2,516.8 C158.8,523.9 152.7,531.3 147.0,539.1 C141.3,546.9 135.5,555.6 130.8,563.4 C126.1,571.1 121.6,579.5 118.6,585.6 C115.6,591.7 114.8,595.8 113.0,599.8 C111.2,603.8 109.2,606.5 108.0,609.9 C106.8,613.2 106.3,616.2 105.5,619.9 C104.7,623.6 104.6,626.1 103.0,632.0 C101.4,637.9 98.6,646.0 96.0,655.0 C93.4,664.0 89.2,678.5 87.5,686.0 C85.8,693.5 86.2,697.7 86.0,700.0 L80,720 L400,720 L400,440Z" fill="#a2a2a2" stroke="#6b5a55" stroke-opacity="0.6" stroke-width="0.7"/>
<path d="M300.0,488.0 C289.7,488.1 251.0,487.9 238.0,488.5 C225.0,489.1 227.9,489.6 221.8,491.6 C215.7,493.6 208.3,496.8 201.6,500.7 C194.8,504.6 188.1,509.1 181.3,514.8 C174.6,520.5 167.2,527.9 161.1,535.0 C155.0,542.1 149.6,549.9 144.9,557.3 C140.2,564.7 136.2,572.4 132.8,579.5 C129.4,586.6 127.5,592.6 124.7,599.8 C121.9,607.0 117.8,616.5 116.0,622.5 C114.2,628.5 114.2,629.8 113.7,636.0 C113.2,642.2 113.1,651.0 113.0,660.0 C112.9,669.0 113.0,685.0 113.0,690.0 L110,720 L400,720 L400,488Z" fill="#e8b36b" stroke="#6b5a55" stroke-opacity="0.6" stroke-width="0.7"/>
<path d="M300.0,514.0 C290.3,514.1 253.7,514.5 242.0,514.8 C230.3,515.1 235.3,514.8 229.9,515.8 C224.5,516.8 216.3,518.4 209.6,520.9 C202.8,523.4 195.5,527.3 189.4,531.0 C183.3,534.7 178.2,538.4 173.2,543.1 C168.1,547.8 163.1,553.6 159.1,559.3 C155.1,565.0 151.4,570.8 149.0,577.5 C146.6,584.2 146.2,593.5 144.9,599.8 C143.6,606.0 141.8,609.5 141.0,615.0 C140.2,620.5 139.8,626.7 140.0,632.5 C140.2,638.3 141.0,644.1 142.0,650.0 C143.0,655.9 144.7,661.3 146.0,668.0 C147.3,674.7 149.3,686.3 150.0,690.0 L150,720 L400,720 L400,514Z" fill="#e38c4c" stroke="#6b5a55" stroke-opacity="0.6" stroke-width="0.7"/>
<path d="M300.0,549.0 C291.4,549.0 259.8,549.2 248.1,549.2 C236.4,549.2 236.3,548.9 229.9,549.2 C223.5,549.5 215.7,549.9 209.6,551.2 C203.5,552.6 198.2,554.6 193.5,557.3 C188.8,560.0 184.5,563.7 181.3,567.4 C178.1,571.1 176.0,574.1 174.3,579.5 C172.6,584.9 171.9,594.7 171.2,599.8 C170.4,604.9 169.7,606.1 169.8,610.0 C169.9,613.9 170.6,619.3 172.0,623.0 C173.4,626.7 175.7,629.4 178.0,632.0 C180.3,634.6 182.3,636.8 186.0,638.5 C189.7,640.2 192.7,640.9 200.0,642.0 C207.3,643.1 216.7,642.0 230.0,645.0 C243.3,648.0 263.3,650.8 280.0,660.0 C296.7,669.2 321.7,693.3 330.0,700.0 L340,720 L400,720 L400,549Z" fill="#dc562e" stroke="#6b5a55" stroke-opacity="0.6" stroke-width="0.7"/>
<circle cx="221.3" cy="603.5" r="19.9" fill="#c72d3f" stroke="#6b5a55" stroke-opacity="0.6" stroke-width="0.7"/>
</g>
<path d="M155.0,454.2 L158.0,458.5 L161.1,459.2 L166.0,462.0 L173.2,464.3 L181.3,470.3 L187.0,468.5 L193.5,467.3 L205.6,469.3 L217.7,471.3 L227.8,469.3 L234.9,472.4 L261.2,610.0 L266.7,608.8 L271.4,606.7 L275.5,605.5 L276.1,610.2 L283.1,613.8 L289.0,617.3 L293.7,621.4 L298.4,616.1 L298.9,610.8 L303.0,607.3 L307.1,609.6 L313.6,614.3 L320.6,619.0 L326.5,625.5 L334.7,632.5 L340.5,639.5 L347.6,643.6 L355.8,644.8 L361.6,646.6 L364.0,653.6 L365.7,658.3 L363.4,665.9 L359.3,665.3 L355.8,662.4 L354.5,667.0 L352.3,670.0 L347.6,672.9 L341.7,670.0 L338.0,664.0 L335.9,663.0 L333.0,664.5 L330.0,658.9 L328.0,656.0 L325.3,651.3 L323.0,655.9 L318.3,651.3 L312.4,646.6 L309.0,640.0 L305.4,633.7 L300.7,629.0 L293.7,626.6 L289.0,624.3 L283.1,620.8 L273.8,617.9 L270.2,615.5 L262.0,616.1 L258.8,612.9 L249.2,614.5 L241.6,616.2 L237.3,617.2 L233.0,610.8 L229.0,612.5 L226.6,614.0 L224.0,609.0 L221.0,606.5 L218.0,609.5 L216.0,606.0 L213.0,608.5 L210.5,606.5 L209.0,610.0 L211.0,614.0 L214.0,617.0 L218.0,615.5 L220.5,618.5 L216.0,620.5 L211.0,619.5 L208.3,619.4 L205.1,621.5 L200.8,623.7 L196.5,626.9 L192.2,630.1 L187.9,632.3 L184.2,635.5 L182.6,632.3 L183.1,624.7 L184.7,618.3 L186.9,611.9 L192.2,608.1 L196.5,606.5 L194.4,603.8 L189.0,604.9 L183.6,609.7 L179.3,616.2 L174.0,622.6 L169.7,629.0 L167.8,634.8 L171.1,639.8 L167.8,646.4 L162.8,651.4 L156.2,656.4 L149.5,661.4 L144.5,666.4 L137.9,671.3 L129.6,678.0 L123.0,681.3 L116.3,684.6 L111.3,686.3 L103.0,688.8 L96.4,691.3 L89.8,692.9 L86.4,696.2 L79.8,697.9 L74.0,698.7 L73.2,695.4 L78.1,692.1 L84.8,691.3 L89.8,688.8 L95.6,684.6 L101.4,680.5 L108.0,679.6 L113.8,679.6 L118.0,674.7 L124.6,670.5 L129.6,664.7 L136.2,658.1 L138.7,649.8 L139.6,639.8 L142.0,637.0 L136.0,637.5 L132.9,638.1 L129.6,644.8 L124.6,638.1 L120.5,639.8 L116.3,634.8 L111.3,638.1 L107.0,640.5 L104.7,639.8 L108.0,629.8 L106.4,621.5 L99.0,620.5 L93.1,619.9 L89.8,614.9 L84.8,606.6 L84.5,597.0 L82.0,590.0 L82.2,593.7 L84.3,585.6 L90.3,577.5 L96.4,571.4 L103.5,573.5 L110.6,569.4 L118.6,567.4 L122.7,561.3 L122.7,553.2 L118.6,549.2 L108.5,551.2 L98.4,548.2 L88.3,543.1 L86.3,536.1 L81.2,529.0 L90.3,524.9 L100.4,520.9 L107.5,520.9 L109.5,527.0 L118.6,529.0 L124.7,528.0 L122.7,524.9 L118.6,515.8 L110.6,512.8 L108.5,504.7 L103.5,497.6 L97.4,491.6 L106.0,489.0 L114.6,486.5 L118.6,480.4 L120.7,473.4 L126.7,468.3 L140.9,462.2 L149.0,459.2Z M50.0,552.5 L54.0,551.0 L58.0,555.0 L63.0,558.0 L68.7,561.0 L68.0,564.0 L63.0,563.5 L58.0,560.0 L53.0,557.0Z M68.2,610.7 L74.0,608.6 L79.0,609.9 L80.6,614.9 L76.5,617.4 L71.5,614.9Z M178.6,643.1 L183.6,648.9 L180.2,653.9 L181.1,659.7 L176.1,664.7 L171.1,668.0 L166.1,673.0 L161.1,675.5 L162.0,669.7 L161.1,663.0 L167.8,658.1 L171.1,651.4 L176.1,646.4Z M181.0,638.5 L184.5,637.0 L187.0,639.0 L185.0,642.0 L182.0,641.5Z" fill="none" stroke="#555" stroke-opacity="0.7" stroke-width="0.7"/>
<path d="M305.4,612.6 L310.1,622.0 L315.9,632.5 L320.6,641.9 L325.3,653.6" fill="none" stroke="#fff" stroke-opacity="0.85" stroke-width="0.8" stroke-linejoin="round"/>
<path d="M318.3,624.3 L325.3,634.8 L332.3,645.4 L337.0,655.9 L340.6,665.3" fill="none" stroke="#fff" stroke-opacity="0.85" stroke-width="0.8" stroke-linejoin="round"/>
<path d="M330.0,646.6 L335.9,651.3 L344.1,660.6 L348.8,670.0" fill="none" stroke="#fff" stroke-opacity="0.85" stroke-width="0.8" stroke-linejoin="round"/>
<path d="M294.8,623.1 L301.9,625.5 L307.7,630.2 L313.6,633.7" fill="none" stroke="#fff" stroke-opacity="0.85" stroke-width="0.8" stroke-linejoin="round"/>
<path d="M344.1,650.1 L351.1,655.9 L354.6,664.1" fill="none" stroke="#fff" stroke-opacity="0.85" stroke-width="0.8" stroke-linejoin="round"/>
<path d="M353.4,651.3 L358.1,657.1 L360.5,664.1" fill="none" stroke="#fff" stroke-opacity="0.85" stroke-width="0.8" stroke-linejoin="round"/>
<path d="M301.9,614.9 L306.6,624.3 L311.3,633.7 L315.9,641.9" fill="none" stroke="#5a5050" stroke-opacity="0.85" stroke-width="0.8" stroke-linejoin="round"/>
<path d="M310.1,617.3 L315.9,625.5 L323.0,636.0 L327.7,645.4 L331.2,655.9" fill="none" stroke="#5a5050" stroke-opacity="0.85" stroke-width="0.8" stroke-linejoin="round"/>
<path d="M323.0,625.5 L330.0,634.8 L337.0,644.2 L342.9,653.6 L346.4,665.3" fill="none" stroke="#5a5050" stroke-opacity="0.85" stroke-width="0.8" stroke-linejoin="round"/>
<path d="M334.7,648.9 L340.6,655.9 L346.4,667.7" fill="none" stroke="#5a5050" stroke-opacity="0.85" stroke-width="0.8" stroke-linejoin="round"/>
<path d="M296.0,619.6 L303.0,623.1 L310.1,629.0" fill="none" stroke="#5a5050" stroke-opacity="0.85" stroke-width="0.8" stroke-linejoin="round"/>
<path d="M348.8,648.9 L354.6,654.8 L358.1,663.0" fill="none" stroke="#5a5050" stroke-opacity="0.85" stroke-width="0.8" stroke-linejoin="round"/>
<path d="M272.6,610.2 L274.9,614.9 L273.8,617.3" fill="none" stroke="#5a5050" stroke-opacity="0.85" stroke-width="0.8" stroke-linejoin="round"/>
<path d="M337.0,660.6 L341.7,666.5 L345.2,671.2" fill="none" stroke="#5a5050" stroke-opacity="0.85" stroke-width="0.8" stroke-linejoin="round"/>
<path d="M326.5,650.1 L330.0,655.9 L331.2,660.6" fill="none" stroke="#5a5050" stroke-opacity="0.85" stroke-width="0.8" stroke-linejoin="round"/>
<!--AKEXTRA2-->
<path d="M35.0,648.0 L37.5,647.5 L38.3,650.0 L36.0,650.6Z" fill="#a2a2a2" stroke="#555" stroke-opacity="0.8" stroke-width="0.5"/>
<path d="M38.3,658.0 L40.8,658.5 L40.0,660.0 L38.5,659.7Z" fill="#a2a2a2" stroke="#555" stroke-opacity="0.8" stroke-width="0.5"/>
<path d="M181.5,84.0 L183.0,81.0 L185.0,80.0 L186.5,82.5 L185.0,85.5 L183.0,86.5Z" fill="#5e5456" fill-opacity="0.75"/>
<path d="M174.5,108.5 L177.0,107.0 L180.0,108.5 L183.0,107.5 L184.0,110.0 L181.0,112.5 L177.0,113.0 L175.0,111.0Z" fill="#5e5456" fill-opacity="0.75"/>
<path d="M186.0,86.5 L188.5,87.0 L189.0,90.0 L187.5,92.5 L186.0,90.0Z" fill="#5e5456" fill-opacity="0.75"/>
<path d="M184.2,93.0 L185.8,94.0 L186.2,99.0 L185.0,104.0 L184.0,100.0 L184.6,96.5Z" fill="#5e5456" fill-opacity="0.75"/>
<path d="M183.4,92.8 L181.0,97.0 L178.0,101.0 L175.0,106.0 L174.5,110.0 L176.0,113.0 L179.0,113.5 L182.0,112.0 L184.0,109.0" fill="none" stroke="#4f4a4a" stroke-opacity="0.9" stroke-width="1.3" stroke-linejoin="round"/>
<path d="M185.5,95.0 L186.3,100.0 L185.0,105.0 L184.5,109.0 L183.0,112.0" fill="none" stroke="#4f4a4a" stroke-opacity="0.9" stroke-width="1.3" stroke-linejoin="round"/>
<path d="M181.5,84.0 L183.0,81.0 L185.0,80.0 L186.5,82.5 L185.0,85.5 L183.0,86.5 L181.5,84.0" fill="none" stroke="#4f4a4a" stroke-opacity="0.9" stroke-width="1.3" stroke-linejoin="round"/>
<path d="M186.5,86.0 L188.5,86.5 L189.0,89.5 L187.5,92.0 L186.0,90.0" fill="none" stroke="#4f4a4a" stroke-opacity="0.9" stroke-width="1.3" stroke-linejoin="round"/>
<path d="M176.0,108.0 L179.0,107.0 L181.0,109.0 L179.0,111.0" fill="none" stroke="#4f4a4a" stroke-opacity="0.9" stroke-width="1.3" stroke-linejoin="round"/>
<path d="M157.6,110.0 L160.0,109.5 L162.0,111.5 L159.0,112.5" fill="none" stroke="#4f4a4a" stroke-opacity="0.9" stroke-width="1.3" stroke-linejoin="round"/>
<path d="M156.8,118.0 L159.0,117.0 L160.5,121.0 L158.0,124.0 L161.0,126.0 L158.5,127.7" fill="none" stroke="#4f4a4a" stroke-opacity="0.9" stroke-width="1.3" stroke-linejoin="round"/>
<path d="M389.3,644.6 L392.7,639.0 L396.9,635.0 L398.6,636.7 L396.9,641.3 L392.7,644.6 L391.0,647.5Z" fill="#8a2c3b" stroke="#5a3a3a" stroke-opacity="0.6" stroke-width="0.6"/>
<path d="M410.2,633.3 L412.5,628.2 L418.1,625.4 L425.2,624.3 L430.9,626.2 L432.9,631.9 L430.9,637.6 L426.6,641.3 L419.6,641.3 L413.9,638.4Z" fill="#8a2c3b" stroke="#5a3a3a" stroke-opacity="0.6" stroke-width="0.6"/>
<path d="M478.9,654.6 L484.5,653.2 L491.5,647.6 L494.2,650.2 L497.7,658.1 L502.9,659.9 L504.7,664.3 L507.0,666.0 L503.8,667.8 L499.4,666.6 L495.0,666.0 L490.6,667.3 L486.2,666.0 L482.7,661.6 L481.0,658.1Z" fill="#8a2c3b" stroke="#5a3a3a" stroke-opacity="0.6" stroke-width="0.6"/>
<path d="M522.8,673.9 L525.8,670.1 L532.0,671.3 L539.0,671.8 L544.3,671.3 L549.2,671.3 L547.8,674.8 L542.5,676.6 L535.5,674.8 L528.4,675.4Z" fill="#8a2c3b" stroke="#5a3a3a" stroke-opacity="0.6" stroke-width="0.6"/>
<path d="M534.6,684.5 L539.0,683.1 L544.3,685.4 L545.1,688.9 L541.6,691.5 L537.2,689.8Z" fill="#8a2c3b" stroke="#5a3a3a" stroke-opacity="0.6" stroke-width="0.6"/>
<path d="M551.3,680.1 L554.8,677.8 L558.3,679.2 L561.0,683.6 L566.2,681.3 L571.5,681.9 L571.5,683.6 L563.6,687.1 L560.1,688.9 L555.7,687.1 L552.2,684.1Z" fill="#8a2c3b" stroke="#5a3a3a" stroke-opacity="0.6" stroke-width="0.6"/>
<path d="M560.1,688.9 L563.6,687.1 L571.5,683.6 L577.7,685.4 L582.9,688.9 L582.9,692.4 L578.5,695.4 L570.6,697.7 L563.6,698.2 L561.5,694.2Z" fill="#cd2f44" stroke="#5a3a3a" stroke-opacity="0.6" stroke-width="0.6"/>
<path d="M551.3,701.2 L554.8,698.9 L558.7,698.6 L558.0,701.2 L553.9,702.4Z" fill="#cd2f44" stroke="#5a3a3a" stroke-opacity="0.6" stroke-width="0.6"/>
<path d="M587.5,712.6 L593.7,713.5 L599.4,717.7 L605.1,719.7 L613.6,721.7 L619.8,723.9 L624.9,729.6 L627.2,733.9 L629.4,739.5 L634.8,743.2 L639.0,746.0 L636.2,750.0 L630.5,755.1 L624.9,758.5 L619.2,760.8 L613.6,764.2 L607.9,767.8 L604.5,772.7 L600.8,776.6 L595.1,774.4 L590.9,772.1 L589.8,765.0 L589.5,757.9 L587.5,750.9 L585.2,745.2 L581.8,737.5 L585.2,733.0 L589.5,729.6 L590.9,725.4 L590.9,721.1 L588.1,716.9Z" fill="#cd2f44" stroke="#5a3a3a" stroke-opacity="0.6" stroke-width="0.6"/>
<path d="M37.6,716.9 L41.8,715.5 L47.4,717.6 L50.2,721.8 L46.4,723.2 L41.8,721.1Z" fill="#a2a2a2" stroke="#555" stroke-opacity="0.8" stroke-width="0.6"/>
<path d="M47.4,732.3 L51.6,730.9 L53.8,733.1 L50.2,734.8Z" fill="#a2a2a2" stroke="#555" stroke-opacity="0.8" stroke-width="0.6"/>
<path d="M57.3,726.7 L59.4,727.4 L60.1,728.8 L58.0,728.1Z" fill="#a2a2a2" stroke="#555" stroke-opacity="0.8" stroke-width="0.6"/>
<path d="M99.5,757.0 L103.7,754.1 L107.9,755.6 L106.5,759.1 L101.6,759.8Z" fill="#a2a2a2" stroke="#555" stroke-opacity="0.8" stroke-width="0.6"/>
<path d="M113.5,757.3 L115.6,758.0 L114.9,759.4 L113.2,758.7Z" fill="#a2a2a2" stroke="#555" stroke-opacity="0.8" stroke-width="0.6"/>
<path d="M117.7,759.8 L119.9,760.5 L119.2,761.9 L117.4,761.2Z" fill="#a2a2a2" stroke="#555" stroke-opacity="0.8" stroke-width="0.6"/>
<path d="M119.9,767.5 L122.7,766.8 L127.2,772.1 L131.1,775.9 L128.3,775.9 L124.1,772.4Z" fill="#a2a2a2" stroke="#555" stroke-opacity="0.8" stroke-width="0.6"/>
<path d="M132.5,762.6 L134.6,761.5 L136.4,762.9 L135.3,765.0 L133.2,764.7Z" fill="#a2a2a2" stroke="#555" stroke-opacity="0.8" stroke-width="0.6"/>
<path d="M82.6,742.2 L84.0,742.5 L83.6,743.6 L82.2,743.2Z" fill="#a2a2a2" stroke="#555" stroke-opacity="0.8" stroke-width="0.6"/>
<path d="M183.5,776.7 L188.8,772.1 L195.8,773.1 L202.8,770.3 L211.6,771.0 L222.2,768.9 L231.0,770.3 L239.8,771.7 L245.7,772.8 L239.8,773.8 L231.0,773.1 L220.4,772.4 L209.9,773.8 L199.3,774.5 L192.3,777.4 L185.3,778.8Z" fill="#b2c7e6" stroke="#555" stroke-opacity="0.8" stroke-width="0.6"/>
<path d="M223.9,765.4 L226.0,763.3 L229.6,763.6 L231.0,766.1 L229.2,768.6 L225.7,768.2Z" fill="#b2c7e6" stroke="#555" stroke-opacity="0.8" stroke-width="0.6"/>
<path d="M250.0,766.8 L252.1,765.0 L255.2,765.8 L255.6,767.9 L252.8,768.9 L250.3,768.6Z" fill="#b2c7e6" stroke="#555" stroke-opacity="0.8" stroke-width="0.6"/>
<path d="M268.2,763.3 L270.4,762.6 L271.4,764.0 L269.3,765.0Z" fill="#b2c7e6" stroke="#555" stroke-opacity="0.8" stroke-width="0.6"/>
<path d="M276.3,761.2 L278.8,759.4 L281.3,760.5 L280.2,762.6 L277.4,762.6Z" fill="#b2c7e6" stroke="#555" stroke-opacity="0.8" stroke-width="0.6"/>
<path d="M287.2,757.0 L291.4,754.9 L294.3,756.3 L290.0,758.4Z" fill="#b2c7e6" stroke="#555" stroke-opacity="0.8" stroke-width="0.6"/>
<path d="M305.5,752.7 L307.6,747.5 L311.8,745.0 L315.4,740.4 L319.6,739.7 L321.7,742.9 L318.2,746.4 L314.0,749.2 L311.1,753.4 L307.6,754.9Z" fill="#b2c7e6" stroke="#555" stroke-opacity="0.8" stroke-width="0.6"/>
<path d="M321.0,745.0 L325.9,742.9 L330.8,741.5 L329.4,743.6 L324.5,745.7Z" fill="#b2c7e6" stroke="#555" stroke-opacity="0.8" stroke-width="0.6"/>
<path d="M330.1,739.4 L331.5,733.4 L335.8,729.9 L340.7,728.1 L345.6,729.5 L343.5,733.4 L339.3,735.2 L336.5,738.7 L332.9,740.8Z" fill="#b2c7e6" stroke="#555" stroke-opacity="0.8" stroke-width="0.6"/>
<path d="M344.9,724.6 L349.1,721.8 L352.6,723.2 L356.8,723.9 L362.8,721.1 L360.4,724.6 L354.0,726.0 L348.8,726.0Z" fill="#b2c7e6" stroke="#555" stroke-opacity="0.8" stroke-width="0.6"/>
<path d="M152.2,782.3 L154.3,781.6 L155.0,783.3 L152.9,783.7Z" fill="#b2c7e6" stroke="#555" stroke-opacity="0.8" stroke-width="0.6"/>
<path d="M160.6,775.9 L163.5,774.9 L164.2,777.0 L161.7,777.7Z" fill="#b2c7e6" stroke="#555" stroke-opacity="0.8" stroke-width="0.6"/>
<path d="M169.1,774.5 L171.9,773.8 L173.3,775.6 L170.5,776.3Z" fill="#b2c7e6" stroke="#555" stroke-opacity="0.8" stroke-width="0.6"/>
<path d="M176.8,773.1 L178.9,772.4 L180.0,774.2 L177.9,774.9Z" fill="#b2c7e6" stroke="#555" stroke-opacity="0.8" stroke-width="0.6"/>
<g fill="none" stroke="#151515" stroke-width="1.5" stroke-linejoin="miter">
<path d="M28.5,786.4 L28.5,446.5 L223.4,446.5 L375.15,614.6 M28.5,786.4 L375.15,786.4 M28.5,707.4 L375.15,707.4"/>
</g>
<g fill="none" stroke="#2e2a2a" stroke-width="1.5" stroke-linejoin="miter">
<path d="M375.15,614.6 L651.9,614.6 L651.9,786.4 L375.15,786.4 Z"/>
</g>
<g stroke="#111" stroke-width="1.3" fill="none">
<path d="M554.5,645.5 L549.9,672.2"/>
<path d="M481.3,694.7 L487.1,666"/>
<path d="M192.7,768.3 L212,771.5"/>
<path d="M282.5,747.2 L301.7,756.6"/>
</g>
<rect x="728.5" y="672.5" width="24.2" height="10.4" fill="#e8b36b" stroke="#9a9a9a" stroke-width="0.6"/>
<rect x="904.9" y="672.5" width="23.6" height="10.4" fill="#c0cce6" stroke="#9a9a9a" stroke-width="0.6"/>
<rect x="728.5" y="689.2" width="24.2" height="10.4" fill="#e38c4c" stroke="#9a9a9a" stroke-width="0.6"/>
<rect x="904.9" y="689.2" width="23.6" height="10.4" fill="#a3c1e1" stroke="#9a9a9a" stroke-width="0.6"/>
<rect x="728.5" y="705.8" width="24.2" height="10.4" fill="#dc562e" stroke="#9a9a9a" stroke-width="0.6"/>
<rect x="904.9" y="705.8" width="23.6" height="10.4" fill="#7ab7e3" stroke="#9a9a9a" stroke-width="0.6"/>
<rect x="728.5" y="722.5" width="24.2" height="10.4" fill="#c72d3f" stroke="#9a9a9a" stroke-width="0.6"/>
<rect x="904.9" y="722.5" width="23.6" height="10.4" fill="#3ea0dd" stroke="#9a9a9a" stroke-width="0.6"/>
<rect x="728.5" y="739.1" width="24.2" height="10.4" fill="#cd2f44" stroke="#9a9a9a" stroke-width="0.6"/>
<rect x="904.9" y="739.1" width="23.6" height="10.4" fill="#0a5ea5" stroke="#9a9a9a" stroke-width="0.6"/>
<rect x="728.5" y="755.8" width="24.2" height="10.4" fill="#8a2c3b" stroke="#9a9a9a" stroke-width="0.6"/>
<rect x="904.9" y="755.8" width="23.6" height="10.4" fill="#2d2278" stroke="#9a9a9a" stroke-width="0.6"/>
<rect x="728.5" y="772.4" width="24.2" height="10.4" fill="#63232c" stroke="#9a9a9a" stroke-width="0.6"/>
<rect x="904.9" y="772.4" width="23.6" height="10.4" fill="#221a55" stroke="#9a9a9a" stroke-width="0.6"/>
<rect x="816.2" y="730.4" width="23.7" height="10.9" fill="#a2a2a2" stroke="#9a9a9a" stroke-width="0.6"/>
<path d="M726,672 Q715.5,672 715.5,678.7 L715.5,679.2 Q715.5,685.9 707,685.9 Q715.5,685.9 715.5,692.6 L715.5,693.1 Q715.5,699.8 726,699.8" fill="none" stroke="#111" stroke-width="0.9"/>
<path d="M726,706.3 Q716.4,706.3 716.4,717.3 L716.4,733.6 Q716.4,744.5999999999999 707.5,744.5999999999999 Q716.4,744.5999999999999 716.4,755.6 L716.4,771.9 Q716.4,782.9 726,782.9" fill="none" stroke="#111" stroke-width="0.9"/>
<path d="M931.5,672 Q939,672 939,678.7 L939,679.2 Q939,685.9 946,685.9 Q939,685.9 939,692.6 L939,693.1 Q939,699.8 931.5,699.8" fill="none" stroke="#111" stroke-width="0.9"/>
<path d="M931.5,706.3 Q940,706.3 940,716.1 L940,734.8 Q940,744.5999999999999 946.5,744.5999999999999 Q940,744.5999999999999 940,754.4 L940,773.1 Q940,782.9 931.5,782.9" fill="none" stroke="#111" stroke-width="0.9"/>
<circle cx="65.4" cy="38.1" r="34.1" fill="#2188c9" stroke="#1a5f94" stroke-width="0.7"/>
<circle cx="65.4" cy="38.1" r="27" fill="#fff" stroke="#1a5f94" stroke-width="0.6"/>
<defs><path id="arcT" d="M36.400000000000006,38.1 A29,29 0 0 1 94.4,38.1"/><path id="arcB" d="M33.10000000000001,38.1 A32.3,32.3 0 0 0 97.7,38.1"/></defs>
<text font-family="Liberation Sans, sans-serif" font-weight="bold" font-size="5.3" fill="#fff" letter-spacing="0.15"><textPath href="#arcT" startOffset="50%" text-anchor="middle">DEPARTMENT OF COMMERCE</textPath></text>
<text font-family="Liberation Sans, sans-serif" font-weight="bold" font-size="5.3" fill="#fff" letter-spacing="0.15"><textPath href="#arcB" startOffset="50%" text-anchor="middle">UNITED STATES OF AMERICA</textPath></text>
<circle cx="34.400000000000006" cy="38.1" r="0.8" fill="#fff"/><circle cx="96.4" cy="38.1" r="0.8" fill="#fff"/>
<path d="M51.3,33.3 L79.9,33.3 L79.6,52 Q79,57 65.4,62.6 Q51.8,57 51.2,52 Z" fill="#e2b62c" stroke="#1d2a55" stroke-width="0.9"/>
<path d="M51.3,33.3 L79.9,33.3 L79.8,46.3 L51.3,46.3 Z" fill="#2a8fd0" stroke="#1d2a55" stroke-width="0.9"/>
<rect x="50.2" y="32.4" width="30.8" height="1.6" fill="#1d2a55"/>
<path d="M56.5,42.5 L74.5,42.5 L73,44.6 L58.5,44.6 Z" fill="#1d2a55"/>
<path d="M57.5,41.8 L62,36.5 L64,36.5 L64.5,35 L67,35 L67.5,36.3 L70,36.5 L73.5,41.8 Z" fill="#eef2f6" stroke="#44506e" stroke-width="0.4"/>
<path d="M59,40 L72,40 M60.5,38.3 L71,38.3" stroke="#44506e" stroke-width="0.5"/>
<path d="M65.4,48 L65.4,61" stroke="#3a3320" stroke-width="1.3"/><path d="M62,50 L68.8,50" stroke="#f4e6a8" stroke-width="0.7"/>
<path d="M56.3,15.6 Q60,17.5 63.5,22.5 L65.4,21.2 L67.3,22.5 Q70.8,17.5 74.9,15.8 Q72.5,24 68.3,27 L67.6,30 L63.2,30 L62.5,27 Q58.3,24 56.3,15.6 Z" fill="#6b4a1f" stroke="#2b1d0c" stroke-width="0.4"/>
<ellipse cx="65.4" cy="21.6" rx="2" ry="1.7" fill="#f2efe6" stroke="#2b1d0c" stroke-width="0.3"/>
<path d="M63.6,23.5 L67.2,23.5 L66.8,29 L64,29 Z" fill="#c9a227"/>
<rect x="59.6" y="29.8" width="11.8" height="1.9" fill="#3a2a12"/>
<clipPath id="noaac"><circle cx="958.2" cy="38.1" r="34.6"/></clipPath>
<g clip-path="url(#noaac)">
<rect x="920" y="0" width="80" height="80" fill="#1b8fd6"/>
<path d="M921.8,26.0 L930.3,31.7 L936.3,37.8 L943.6,43.8 L950.9,46.9 L956.7,47.5 L952.1,49.4 L947.8,51.5 L953.3,52.4 L960.5,49.9 L967.8,47.0 L973.5,45.5 L967.8,44.3 L972.9,40.0 L978.7,33.9 L984.8,26.6 L990.2,21.8 L992.0,12.1 L984.8,0.0 L924.2,0.0Z" fill="#fff"/>
<path d="M928.5,18.2 L936.3,25.7 L942.4,35.1 L948.4,41.2 L953.3,43.6 L958.1,44.3 L963.0,42.9 L967.8,39.0 L972.1,32.9 L976.3,25.7 L981.1,20.1 L987.8,16.5 L992.0,7.3 L984.8,0.0 L930.3,0.0 L924.2,9.7Z" fill="#22409a" stroke="#22409a" stroke-width="0.5" stroke-linejoin="round"/>
</g>
<text x="958.1" y="26" font-family="Liberation Sans, sans-serif" font-weight="bold" font-size="11.4" fill="#fff" text-anchor="middle" textLength="28" lengthAdjust="spacingAndGlyphs">NOAA</text>
</svg>
<div class="t " style="left:511px;transform:translateX(-50%);top:14.1px;font-size:46.6px;">6-10 Day Temperature Outlook</div>
<div class="t " style="left:428.8px;top:72.0px;font-size:19.2px;"><span class="b">Valid:</span>&nbsp; December 24 - 28, 2024</div>
<div class="t " style="left:428.8px;top:93.4px;font-size:19.2px;"><span class="b">Issued:</span>&nbsp; December 18, 2024</div>
<div class="t halo" style="left:564.2px;transform:translateX(-50%);top:218.9px;font-size:21.5px;">Above</div>
<div class="t halo" style="left:858.75px;transform:translateX(-50%);top:346.5px;font-size:20.6px;">Near</div>
<div class="t halo" style="left:858.75px;transform:translateX(-50%);top:370.2px;font-size:20.6px;">Normal</div>
<div class="t halo" style="left:127.5px;transform:translateX(-50%);top:479.7px;font-size:17.6px;">Below</div>
<div class="t halo" style="left:164.5px;transform:translateX(-50%);top:506.2px;font-size:16.1px;">Near</div>
<div class="t halo" style="left:165.1px;transform:translateX(-50%);top:525.1px;font-size:16.3px;">Normal</div>
<div class="t halo" style="left:221.75px;transform:translateX(-50%);top:585.7px;font-size:17.7px;">Above</div>
<div class="t halo" style="left:308.3px;transform:translateX(-50%);top:630.2px;font-size:17.7px;">Above</div>
<div class="t halo" style="left:30.6px;transform:translateX(-50%);top:590.3px;font-size:17.9px;">Below</div>
<div class="t b" style="left:204.45px;transform:translateX(-50%);top:711.3px;font-size:14.2px;">Aleutian Islands</div>
<div class="t b" style="left:171.3px;transform:translateX(-50%);top:762.8px;font-size:12.8px;">Below</div>
<div class="t b" style="left:260.9px;transform:translateX(-50%);top:741.2px;font-size:12.85px;">Below</div>
<div class="t b" style="left:577.2px;transform:translateX(-50%);top:638.9px;font-size:12.7px;">Above</div>
<div class="t b" style="left:457.8px;transform:translateX(-50%);top:688.0px;font-size:12.9px;">Above</div>
<div class="t b" style="left:827.8px;transform:translateX(-50%);top:618.3px;font-size:13.5px;">Probability</div>
<div class="t b" style="left:828px;transform:translateX(-50%);top:634.5px;font-size:13.5px;">(Percent Chance)</div>
<div class="t b" style="left:763.5px;transform:translateX(-50%);top:652.4px;font-size:10.3px;">Above Normal</div>
<div class="t b" style="left:892.85px;transform:translateX(-50%);top:652.2px;font-size:10.5px;">Below Normal</div>
<div class="t b" style="left:827.8px;transform:translateX(-50%);top:699.0px;font-size:10.4px;">Near</div>
<div class="t b" style="left:827.5px;transform:translateX(-50%);top:711.1px;font-size:10.4px;">Normal</div>
<div class="t " style="left:758.2px;top:674.0px;font-size:9.6px;">33-40%</div>
<div class="t " style="left:899.4px;transform:translateX(-100%);top:674.0px;font-size:9.6px;">33-40%</div>
<div class="t " style="left:758.2px;top:690.7px;font-size:9.6px;">40-50%</div>
<div class="t " style="left:899.4px;transform:translateX(-100%);top:690.7px;font-size:9.6px;">40-50%</div>
<div class="t " style="left:758.2px;top:707.3px;font-size:9.6px;">50-60%</div>
<div class="t " style="left:899.4px;transform:translateX(-100%);top:707.3px;font-size:9.6px;">50-60%</div>
<div class="t " style="left:758.2px;top:724.0px;font-size:9.6px;">60-70%</div>
<div class="t " style="left:899.4px;transform:translateX(-100%);top:724.0px;font-size:9.6px;">60-70%</div>
<div class="t " style="left:758.2px;top:740.6px;font-size:9.6px;">70-80%</div>
<div class="t " style="left:899.4px;transform:translateX(-100%);top:740.6px;font-size:9.6px;">70-80%</div>
<div class="t " style="left:758.2px;top:757.3px;font-size:9.6px;">80-90%</div>
<div class="t " style="left:899.4px;transform:translateX(-100%);top:757.3px;font-size:9.6px;">80-90%</div>
<div class="t " style="left:758.2px;top:773.9px;font-size:9.6px;">90-100%</div>
<div class="t " style="left:899.4px;transform:translateX(-100%);top:773.9px;font-size:9.6px;">90-100%</div>
<div class="t " style="left:684.2px;transform:translateX(-50%);top:672.2px;font-size:12.45px;">Leaning</div>
<div class="t " style="left:684.2px;transform:translateX(-50%);top:686.3px;font-size:12.2px;">Above</div>
<div class="t " style="left:684.2px;transform:translateX(-50%);top:730.5px;font-size:12.2px;">Likely</div>
<div class="t " style="left:684.2px;transform:translateX(-50%);top:744.5px;font-size:12.2px;">Above</div>
<div class="t " style="left:974.2px;transform:translateX(-50%);top:672.2px;font-size:12.45px;">Leaning</div>
<div class="t " style="left:974.2px;transform:translateX(-50%);top:686.3px;font-size:12.2px;">Below</div>
<div class="t " style="left:974.2px;transform:translateX(-50%);top:730.5px;font-size:12.2px;">Likely</div>
<div class="t " style="left:974.2px;transform:translateX(-50%);top:744.5px;font-size:12.2px;">Below</div>
</body></html>
